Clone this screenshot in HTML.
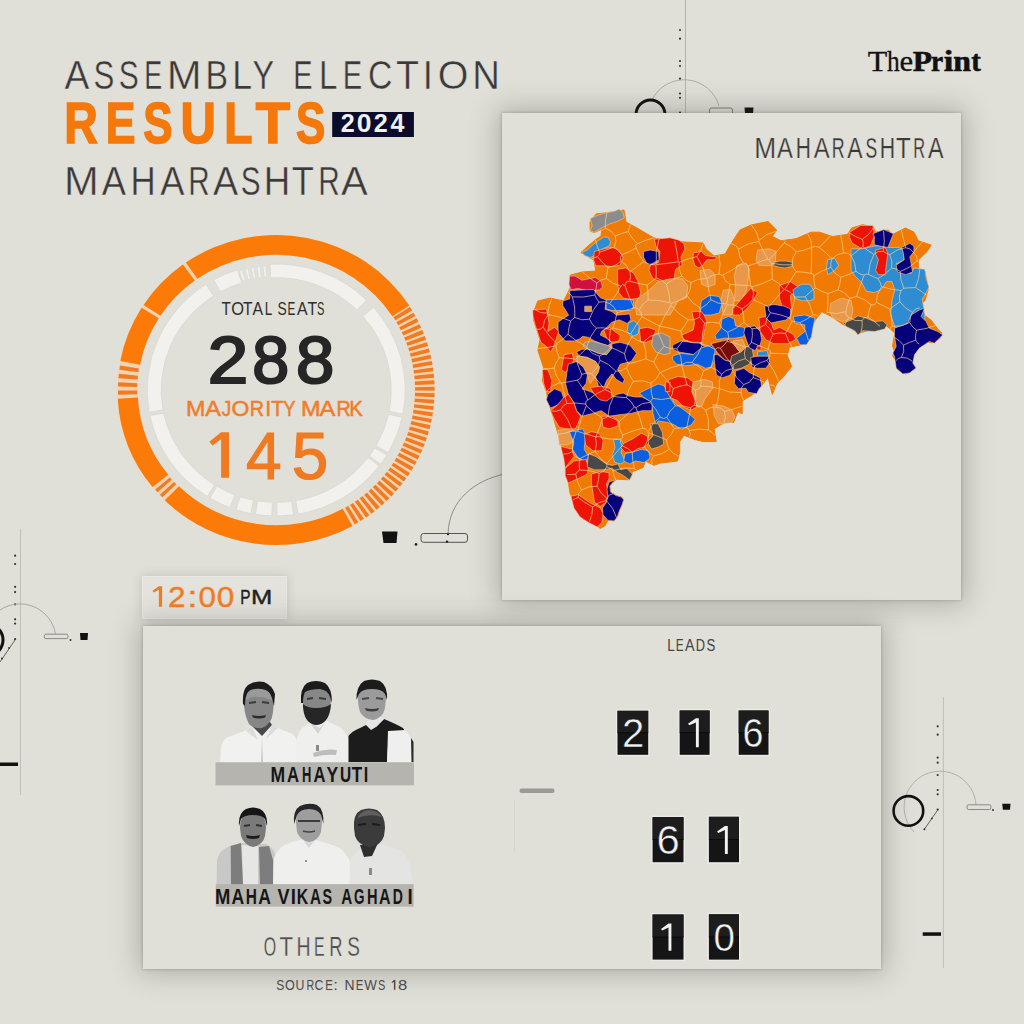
<!DOCTYPE html>
<html><head><meta charset="utf-8"><style>
html,body{margin:0;padding:0}
body{width:1024px;height:1024px;background:#e0dfd8;position:relative;overflow:hidden;font-family:"Liberation Sans", sans-serif}
.panel{position:absolute;background:#e0dfd8;box-shadow:0 0 3px 0 rgba(40,40,30,0.28), 0 0 26px 4px rgba(60,60,50,0.30)}
svg{position:absolute;left:0;top:0}
</style></head><body>
<svg width="1024" height="1024" viewBox="0 0 1024 1024"><line x1="685.5" y1="0" x2="685.5" y2="115" stroke="#a8a8a4" stroke-width="0.8"/><circle cx="680" cy="30" r="1.1" fill="#333"/><circle cx="680" cy="38.7" r="1.1" fill="#333"/><circle cx="680" cy="61" r="1.1" fill="#333"/><circle cx="680" cy="66" r="1.1" fill="#333"/><circle cx="680" cy="78.7" r="1.1" fill="#333"/><circle cx="680" cy="93.5" r="1.1" fill="#333"/><circle cx="680" cy="97.8" r="1.1" fill="#333"/><circle cx="680" cy="112.7" r="1.1" fill="#333"/><path d="M652,100 A36,36 0 0 1 719,106" fill="none" stroke="#a0a09c" stroke-width="0.8"/><circle cx="650.5" cy="114.5" r="14.5" fill="none" stroke="#111" stroke-width="3"/><rect x="709.5" y="108" width="23" height="6" rx="2" fill="none" stroke="#666" stroke-width="0.8"/><path d="M744.5,107.5 L753.5,107.5 L753,114 L745,114Z" fill="#111"/><path d="M382,531.5 L397.5,531.5 L396.5,543 L383.5,543Z" fill="#111"/><circle cx="416" cy="544.4" r="1.3" fill="#222"/><rect x="421" y="533.5" width="46.5" height="8.8" rx="2.5" fill="none" stroke="#444" stroke-width="0.9"/><circle cx="448" cy="534" r="1.2" fill="#222"/><circle cx="447" cy="541.6" r="1.2" fill="#222"/><path d="M448,534 C449,500 475,480 505,474" fill="none" stroke="#777" stroke-width="0.8"/><line x1="20.5" y1="529" x2="20.5" y2="795" stroke="#b8b8b4" stroke-width="0.8"/><circle cx="15.1" cy="555.7" r="1.1" fill="#333"/><circle cx="15.1" cy="564" r="1.1" fill="#333"/><circle cx="15.1" cy="586.8" r="1.1" fill="#333"/><circle cx="15.1" cy="592.1" r="1.1" fill="#333"/><circle cx="15.1" cy="604.3" r="1.1" fill="#333"/><circle cx="15.1" cy="619.3" r="1.1" fill="#333"/><circle cx="15.1" cy="623.6" r="1.1" fill="#333"/><circle cx="15.1" cy="639.2" r="1.1" fill="#333"/><path d="M0,610 A36,36 0 0 1 55.5,634" fill="none" stroke="#9a9a96" stroke-width="0.8"/><circle cx="-13" cy="640" r="16" fill="none" stroke="#111" stroke-width="3"/><line x1="15.5" y1="639.2" x2="0" y2="662" stroke="#555" stroke-width="0.9"/><circle cx="9" cy="648" r="0.9" fill="#333"/><circle cx="2" cy="658.6" r="1" fill="#333"/><rect x="44.4" y="634.2" width="23.5" height="4.4" rx="1.5" fill="none" stroke="#666" stroke-width="0.7"/><circle cx="70.5" cy="640" r="1" fill="#333"/><path d="M80,633 L88,633 L87.5,640 L80.5,640Z" fill="#111"/><rect x="0" y="762.5" width="18" height="3.5" fill="#111"/><line x1="943.4" y1="697" x2="943.4" y2="968" stroke="#b8b8b4" stroke-width="0.8"/><circle cx="937.7" cy="726.3" r="1.1" fill="#333"/><circle cx="937.7" cy="734.7" r="1.1" fill="#333"/><circle cx="937.7" cy="757.6" r="1.1" fill="#333"/><circle cx="937.7" cy="762.7" r="1.1" fill="#333"/><circle cx="937.7" cy="775" r="1.1" fill="#333"/><circle cx="937.7" cy="790" r="1.1" fill="#333"/><circle cx="937.7" cy="794.3" r="1.1" fill="#333"/><circle cx="937.7" cy="809.6" r="1.1" fill="#333"/><path d="M914,832 A36,36 0 1 1 976,804.8" fill="none" stroke="#a5a5a1" stroke-width="0.8"/><circle cx="908.4" cy="810.9" r="14.8" fill="none" stroke="#111" stroke-width="2.6"/><line x1="937.7" y1="810" x2="924.4" y2="829.2" stroke="#555" stroke-width="0.9"/><circle cx="931.8" cy="818.4" r="0.9" fill="#333"/><circle cx="924.4" cy="829.2" r="1" fill="#333"/><rect x="967.1" y="804.8" width="23.8" height="4.7" rx="1.5" fill="none" stroke="#666" stroke-width="0.7"/><circle cx="993" cy="810" r="1" fill="#333"/><path d="M1002.3,803.8 L1010.5,803.8 L1010,809.7 L1002.8,809.7Z" fill="#111"/><rect x="922.7" y="932.3" width="18.3" height="3.5" fill="#111"/></svg>
<div class="panel" style="left:502px;top:113px;width:459px;height:487px"></div>
<div class="panel" style="left:143px;top:577px;width:143px;height:41px;background:#e3e2dc;box-shadow:0 0 0 1px #e9e8e3, 0 0 10px 1px rgba(60,60,50,0.18)"></div>
<div class="panel" style="left:143px;top:626px;width:738px;height:343px"></div>
<svg width="1024" height="1024" viewBox="0 0 1024 1024">
<defs><filter id="soft" x="-5%" y="-5%" width="110%" height="110%"><feGaussianBlur stdDeviation="0.55"/></filter></defs>
<text transform="translate(64.43,88.8) scale(0.9313,1)" font-family="Liberation Sans" font-size="40" font-weight="normal" fill="#3a3a3a" stroke="#e0dfd8" stroke-width="0.45">A</text>
<text transform="translate(93.38,88.8) scale(0.7817,1)" font-family="Liberation Sans" font-size="40" font-weight="normal" fill="#3a3a3a" stroke="#e0dfd8" stroke-width="0.45">S</text>
<text transform="translate(118.84,88.8) scale(0.7513,1)" font-family="Liberation Sans" font-size="40" font-weight="normal" fill="#3a3a3a" stroke="#e0dfd8" stroke-width="0.45">S</text>
<text transform="translate(144.29,88.8) scale(0.6734,1)" font-family="Liberation Sans" font-size="40" font-weight="normal" fill="#3a3a3a" stroke="#e0dfd8" stroke-width="0.45">E</text>
<text transform="translate(166.67,88.8) scale(1.0464,1)" font-family="Liberation Sans" font-size="40" font-weight="normal" fill="#3a3a3a" stroke="#e0dfd8" stroke-width="0.45">M</text>
<text transform="translate(205.43,88.8) scale(0.8455,1)" font-family="Liberation Sans" font-size="40" font-weight="normal" fill="#3a3a3a" stroke="#e0dfd8" stroke-width="0.45">B</text>
<text transform="translate(232.28,88.8) scale(0.8902,1)" font-family="Liberation Sans" font-size="40" font-weight="normal" fill="#3a3a3a" stroke="#e0dfd8" stroke-width="0.45">L</text>
<text transform="translate(252.49,88.8) scale(0.8105,1)" font-family="Liberation Sans" font-size="40" font-weight="normal" fill="#3a3a3a" stroke="#e0dfd8" stroke-width="0.45">Y</text>
<text transform="translate(293.32,88.8) scale(0.7242,1)" font-family="Liberation Sans" font-size="40" font-weight="normal" fill="#3a3a3a" stroke="#e0dfd8" stroke-width="0.45">E</text>
<text transform="translate(318.88,88.8) scale(0.8278,1)" font-family="Liberation Sans" font-size="40" font-weight="normal" fill="#3a3a3a" stroke="#e0dfd8" stroke-width="0.45">L</text>
<text transform="translate(342.71,88.8) scale(0.7288,1)" font-family="Liberation Sans" font-size="40" font-weight="normal" fill="#3a3a3a" stroke="#e0dfd8" stroke-width="0.45">E</text>
<text transform="translate(368.08,88.8) scale(0.8448,1)" font-family="Liberation Sans" font-size="40" font-weight="normal" fill="#3a3a3a" stroke="#e0dfd8" stroke-width="0.45">C</text>
<text transform="translate(395.95,88.8) scale(0.9418,1)" font-family="Liberation Sans" font-size="40" font-weight="normal" fill="#3a3a3a" stroke="#e0dfd8" stroke-width="0.45">T</text>
<text transform="translate(422.64,88.8) scale(0.9114,1)" font-family="Liberation Sans" font-size="40" font-weight="normal" fill="#3a3a3a" stroke="#e0dfd8" stroke-width="0.45">I</text>
<text transform="translate(437.63,88.8) scale(0.9852,1)" font-family="Liberation Sans" font-size="40" font-weight="normal" fill="#3a3a3a" stroke="#e0dfd8" stroke-width="0.45">O</text>
<text transform="translate(472.26,88.8) scale(0.9578,1)" font-family="Liberation Sans" font-size="40" font-weight="normal" fill="#3a3a3a" stroke="#e0dfd8" stroke-width="0.45">N</text>
<text transform="translate(64.29,142.9) scale(0.8111,1)" font-family="Liberation Sans" font-size="57.3" font-weight="bold" fill="#f5780a" stroke="#f5780a" stroke-width="1.6">R</text>
<text transform="translate(105.82,142.9) scale(0.7777,1)" font-family="Liberation Sans" font-size="57.3" font-weight="bold" fill="#f5780a" stroke="#f5780a" stroke-width="1.6">E</text>
<text transform="translate(143.14,142.9) scale(0.7661,1)" font-family="Liberation Sans" font-size="57.3" font-weight="bold" fill="#f5780a" stroke="#f5780a" stroke-width="1.6">S</text>
<text transform="translate(180.45,142.9) scale(0.8565,1)" font-family="Liberation Sans" font-size="57.3" font-weight="bold" fill="#f5780a" stroke="#f5780a" stroke-width="1.6">U</text>
<text transform="translate(224.31,142.9) scale(0.8060,1)" font-family="Liberation Sans" font-size="57.3" font-weight="bold" fill="#f5780a" stroke="#f5780a" stroke-width="1.6">L</text>
<text transform="translate(255.77,142.9) scale(0.9780,1)" font-family="Liberation Sans" font-size="57.3" font-weight="bold" fill="#f5780a" stroke="#f5780a" stroke-width="1.6">T</text>
<text transform="translate(296.04,142.9) scale(0.7661,1)" font-family="Liberation Sans" font-size="57.3" font-weight="bold" fill="#f5780a" stroke="#f5780a" stroke-width="1.6">S</text>
<rect x="332.2" y="112" width="81.7" height="25" fill="#0b0b2b"/>
<text transform="translate(340.83,132.4) scale(0.9934,1)" font-family="Liberation Sans" font-size="25.3" font-weight="bold" fill="#f0f0f0" >2</text>
<text transform="translate(356.85,132.4) scale(1.0472,1)" font-family="Liberation Sans" font-size="25.3" font-weight="bold" fill="#f0f0f0" >0</text>
<text transform="translate(373.73,132.4) scale(0.9934,1)" font-family="Liberation Sans" font-size="25.3" font-weight="bold" fill="#f0f0f0" >2</text>
<text transform="translate(390.52,132.4) scale(0.9888,1)" font-family="Liberation Sans" font-size="25.3" font-weight="bold" fill="#f0f0f0" >4</text>
<text transform="translate(63.98,195.4) scale(1.0324,1)" font-family="Liberation Sans" font-size="40.4" font-weight="normal" fill="#3a3a3a" stroke="#e0dfd8" stroke-width="0.45">M</text>
<text transform="translate(101.73,195.4) scale(0.8996,1)" font-family="Liberation Sans" font-size="40.4" font-weight="normal" fill="#3a3a3a" stroke="#e0dfd8" stroke-width="0.45">A</text>
<text transform="translate(130.44,195.4) scale(0.8641,1)" font-family="Liberation Sans" font-size="40.4" font-weight="normal" fill="#3a3a3a" stroke="#e0dfd8" stroke-width="0.45">H</text>
<text transform="translate(160.13,195.4) scale(0.8996,1)" font-family="Liberation Sans" font-size="40.4" font-weight="normal" fill="#3a3a3a" stroke="#e0dfd8" stroke-width="0.45">A</text>
<text transform="translate(188.37,195.4) scale(0.7337,1)" font-family="Liberation Sans" font-size="40.4" font-weight="normal" fill="#3a3a3a" stroke="#e0dfd8" stroke-width="0.45">R</text>
<text transform="translate(213.03,195.4) scale(0.9332,1)" font-family="Liberation Sans" font-size="40.4" font-weight="normal" fill="#3a3a3a" stroke="#e0dfd8" stroke-width="0.45">A</text>
<text transform="translate(240.65,195.4) scale(0.7352,1)" font-family="Liberation Sans" font-size="40.4" font-weight="normal" fill="#3a3a3a" stroke="#e0dfd8" stroke-width="0.45">S</text>
<text transform="translate(263.69,195.4) scale(0.9084,1)" font-family="Liberation Sans" font-size="40.4" font-weight="normal" fill="#3a3a3a" stroke="#e0dfd8" stroke-width="0.45">H</text>
<text transform="translate(291.79,195.4) scale(0.8974,1)" font-family="Liberation Sans" font-size="40.4" font-weight="normal" fill="#3a3a3a" stroke="#e0dfd8" stroke-width="0.45">T</text>
<text transform="translate(318.25,195.4) scale(0.7379,1)" font-family="Liberation Sans" font-size="40.4" font-weight="normal" fill="#3a3a3a" stroke="#e0dfd8" stroke-width="0.45">R</text>
<text transform="translate(341.12,195.4) scale(0.9930,1)" font-family="Liberation Sans" font-size="40.4" font-weight="normal" fill="#3a3a3a" stroke="#e0dfd8" stroke-width="0.45">A</text>
<text transform="translate(867.72,71.1) scale(1.0645,1)" font-family="Liberation Serif" font-size="30" font-weight="normal" fill="#111" stroke="#111" stroke-width="0.3">T</text>
<text transform="translate(887.05,71.1) scale(0.8455,1)" font-family="Liberation Serif" font-size="30" font-weight="normal" fill="#111" stroke="#111" stroke-width="0.3">h</text>
<text transform="translate(899.40,71.1) scale(1.0267,1)" font-family="Liberation Serif" font-size="30" font-weight="normal" fill="#111" stroke="#111" stroke-width="0.3">e</text>
<text transform="translate(912.76,71.1) scale(1.0493,1)" font-family="Liberation Serif" font-size="30" font-weight="bold" fill="#111" stroke="#111" stroke-width="0.6">P</text>
<text transform="translate(930.97,71.1) scale(0.9102,1)" font-family="Liberation Serif" font-size="30" font-weight="bold" fill="#111" stroke="#111" stroke-width="0.6">r</text>
<text transform="translate(943.64,71.1) scale(1.1470,1)" font-family="Liberation Serif" font-size="30" font-weight="bold" fill="#111" stroke="#111" stroke-width="0.6">i</text>
<text transform="translate(953.14,71.1) scale(1.0632,1)" font-family="Liberation Serif" font-size="30" font-weight="bold" fill="#111" stroke="#111" stroke-width="0.6">n</text>
<text transform="translate(971.24,71.1) scale(0.9493,1)" font-family="Liberation Serif" font-size="30" font-weight="bold" fill="#111" stroke="#111" stroke-width="0.6">t</text>
<g transform="translate(276.2,390.0) scale(1.024,1)">
<path d="M155.00,0.00 A155.0,155.0 0 0 1 -155.00,0.03 L-135.30,0.02 A135.3,135.3 0 0 0 135.30,0.00Z M-155.00,0.00 A155.0,155.0 0 0 1 155.00,-0.03 L135.30,-0.02 A135.3,135.3 0 0 0 -135.30,0.00Z" fill="#f6d2b0"/>
<path d="M74.43,135.96 A155.0,155.0 0 0 1 -108.83,110.36 L-95.00,96.34 A135.3,135.3 0 0 0 64.97,118.68Z M-120.80,97.12 A155.0,155.0 0 0 1 -154.76,8.65 L-135.09,7.55 A135.3,135.3 0 0 0 -105.44,84.78Z M-152.25,-29.04 A155.0,155.0 0 0 1 -131.45,-82.14 L-114.74,-71.70 A135.3,135.3 0 0 0 -132.90,-25.35Z M-129.55,-85.10 A155.0,155.0 0 0 1 -91.11,-125.40 L-79.53,-109.46 A135.3,135.3 0 0 0 -113.08,-74.28Z M-88.24,-127.43 A155.0,155.0 0 0 1 129.99,-84.42 L113.47,-73.69 A135.3,135.3 0 0 0 -77.02,-111.24Z" fill="#fb7a08"/>
<path d="M130.62,-82.89 A154.7,154.7 0 0 1 132.67,-79.56 L116.29,-69.74 A135.60000000000002,135.60000000000002 0 0 0 114.49,-72.66Z M133.97,-77.35 A154.7,154.7 0 0 1 135.89,-73.94 L119.11,-64.81 A135.60000000000002,135.60000000000002 0 0 0 117.43,-67.80Z M137.10,-71.67 A154.7,154.7 0 0 1 138.87,-68.18 L121.72,-59.76 A135.60000000000002,135.60000000000002 0 0 0 120.17,-62.82Z M139.98,-65.87 A154.7,154.7 0 0 1 141.60,-62.30 L124.12,-54.61 A135.60000000000002,135.60000000000002 0 0 0 122.69,-57.74Z M142.61,-59.95 A154.7,154.7 0 0 1 144.08,-56.32 L126.29,-49.37 A135.60000000000002,135.60000000000002 0 0 0 125.00,-52.55Z M145.00,-53.92 A154.7,154.7 0 0 1 146.32,-50.24 L128.25,-44.04 A135.60000000000002,135.60000000000002 0 0 0 127.10,-47.27Z M147.13,-47.80 A154.7,154.7 0 0 1 148.29,-44.07 L129.98,-38.63 A135.60000000000002,135.60000000000002 0 0 0 128.96,-41.90Z M149.00,-41.60 A154.7,154.7 0 0 1 150.01,-37.82 L131.49,-33.15 A135.60000000000002,135.60000000000002 0 0 0 130.60,-36.47Z M150.61,-35.33 A154.7,154.7 0 0 1 151.46,-31.50 L132.76,-27.61 A135.60000000000002,135.60000000000002 0 0 0 132.02,-30.96Z M151.96,-28.99 A154.7,154.7 0 0 1 152.64,-25.13 L133.80,-22.03 A135.60000000000002,135.60000000000002 0 0 0 133.20,-25.41Z M153.04,-22.60 A154.7,154.7 0 0 1 153.56,-18.72 L134.60,-16.41 A135.60000000000002,135.60000000000002 0 0 0 134.15,-19.81Z M153.85,-16.17 A154.7,154.7 0 0 1 154.21,-12.27 L135.17,-10.76 A135.60000000000002,135.60000000000002 0 0 0 134.86,-14.17Z M154.39,-9.71 A154.7,154.7 0 0 1 154.59,-5.80 L135.50,-5.09 A135.60000000000002,135.60000000000002 0 0 0 135.33,-8.51Z M154.67,-3.24 A154.7,154.7 0 0 1 154.70,0.68 L135.60,0.59 A135.60000000000002,135.60000000000002 0 0 0 135.57,-2.84Z M154.67,3.24 A154.7,154.7 0 0 1 154.53,7.15 L135.45,6.27 A135.60000000000002,135.60000000000002 0 0 0 135.57,2.84Z M154.39,9.71 A154.7,154.7 0 0 1 154.10,13.62 L135.07,11.94 A135.60000000000002,135.60000000000002 0 0 0 135.33,8.51Z M153.85,16.17 A154.7,154.7 0 0 1 153.39,20.06 L134.46,17.58 A135.60000000000002,135.60000000000002 0 0 0 134.86,14.17Z M153.04,22.60 A154.7,154.7 0 0 1 152.42,26.46 L133.60,23.20 A135.60000000000002,135.60000000000002 0 0 0 134.15,19.81Z M151.96,28.99 A154.7,154.7 0 0 1 151.18,32.82 L132.51,28.77 A135.60000000000002,135.60000000000002 0 0 0 133.20,25.41Z M150.61,35.33 A154.7,154.7 0 0 1 149.67,39.13 L131.19,34.30 A135.60000000000002,135.60000000000002 0 0 0 132.02,30.96Z M149.00,41.60 A154.7,154.7 0 0 1 147.90,45.36 L129.64,39.76 A135.60000000000002,135.60000000000002 0 0 0 130.60,36.47Z M147.13,47.80 A154.7,154.7 0 0 1 145.87,51.51 L127.86,45.15 A135.60000000000002,135.60000000000002 0 0 0 128.96,41.90Z M145.00,53.92 A154.7,154.7 0 0 1 143.59,57.58 L125.86,50.47 A135.60000000000002,135.60000000000002 0 0 0 127.10,47.27Z M142.61,59.95 A154.7,154.7 0 0 1 141.05,63.54 L123.63,55.69 A135.60000000000002,135.60000000000002 0 0 0 125.00,52.55Z M139.98,65.87 A154.7,154.7 0 0 1 138.27,69.39 L121.19,60.82 A135.60000000000002,135.60000000000002 0 0 0 122.69,57.74Z M137.10,71.67 A154.7,154.7 0 0 1 135.24,75.12 L118.54,65.84 A135.60000000000002,135.60000000000002 0 0 0 120.17,62.82Z M133.97,77.35 A154.7,154.7 0 0 1 131.97,80.72 L115.68,70.75 A135.60000000000002,135.60000000000002 0 0 0 117.43,67.80Z M130.62,82.89 A154.7,154.7 0 0 1 128.48,86.17 L112.62,75.53 A135.60000000000002,135.60000000000002 0 0 0 114.49,72.66Z M127.03,88.29 A154.7,154.7 0 0 1 124.76,91.48 L109.35,80.18 A135.60000000000002,135.60000000000002 0 0 0 111.35,77.39Z M123.22,93.53 A154.7,154.7 0 0 1 120.82,96.62 L105.90,84.69 A135.60000000000002,135.60000000000002 0 0 0 108.01,81.98Z M119.20,98.61 A154.7,154.7 0 0 1 116.66,101.59 L102.26,89.05 A135.60000000000002,135.60000000000002 0 0 0 104.48,86.43Z M114.96,103.51 A154.7,154.7 0 0 1 112.31,106.39 L98.44,93.26 A135.60000000000002,135.60000000000002 0 0 0 100.77,90.73Z M110.53,108.24 A154.7,154.7 0 0 1 107.75,111.00 L94.45,97.30 A135.60000000000002,135.60000000000002 0 0 0 96.88,94.87Z M105.90,112.77 A154.7,154.7 0 0 1 103.01,115.42 L90.29,101.17 A135.60000000000002,135.60000000000002 0 0 0 92.82,98.85Z M101.08,117.11 A154.7,154.7 0 0 1 98.09,119.63 L85.98,104.86 A135.60000000000002,135.60000000000002 0 0 0 88.60,102.65Z M96.09,121.24 A154.7,154.7 0 0 1 92.99,123.63 L81.51,108.37 A135.60000000000002,135.60000000000002 0 0 0 84.23,106.27Z M90.93,125.15 A154.7,154.7 0 0 1 87.73,127.42 L76.90,111.68 A135.60000000000002,135.60000000000002 0 0 0 79.70,109.70Z M85.61,128.85 A154.7,154.7 0 0 1 82.32,130.98 L72.16,114.81 A135.60000000000002,135.60000000000002 0 0 0 75.04,112.94Z M80.14,132.32 A154.7,154.7 0 0 1 76.76,134.31 L67.29,117.73 A135.60000000000002,135.60000000000002 0 0 0 70.24,115.99Z M-111.14,107.32 A154.5,154.5 0 0 1 -113.54,104.78 L-99.80,92.09 A135.8,135.8 0 0 0 -97.69,94.33Z M-115.89,102.17 A154.5,154.5 0 0 1 -118.18,99.52 L-103.88,87.47 A135.8,135.8 0 0 0 -101.87,89.81Z M-154.42,4.85 A154.5,154.5 0 0 1 -154.50,0.54 L-135.80,0.47 A135.8,135.8 0 0 0 -135.73,4.27Z M-154.46,-3.51 A154.5,154.5 0 0 1 -154.30,-7.82 L-135.63,-6.87 A135.8,135.8 0 0 0 -135.77,-3.08Z M-154.04,-11.85 A154.5,154.5 0 0 1 -153.65,-16.15 L-135.06,-14.19 A135.8,135.8 0 0 0 -135.40,-10.42Z M-153.18,-20.17 A154.5,154.5 0 0 1 -152.56,-24.44 L-134.09,-21.48 A135.8,135.8 0 0 0 -134.64,-17.73Z" fill="#ef7c22"/>
<path d="M-124.01,22.31 A126.0,126.0 0 0 1 -68.62,-105.67 L-61.16,-94.18 A112.3,112.3 0 0 0 -110.53,19.89Z M-61.09,-110.20 A126.0,126.0 0 0 1 -37.89,-120.17 L-33.77,-107.10 A112.3,112.3 0 0 0 -54.44,-98.22Z M-6.16,-125.85 A126.0,126.0 0 0 1 88.31,-89.87 L78.71,-80.10 A112.3,112.3 0 0 0 -5.49,-112.17Z M95.09,-82.66 A126.0,126.0 0 0 1 123.69,24.04 L110.24,21.43 A112.3,112.3 0 0 0 84.75,-73.68Z M123.01,27.27 A126.0,126.0 0 0 1 109.34,62.62 L97.45,55.81 A112.3,112.3 0 0 0 109.64,24.31Z M108.00,64.89 A126.0,126.0 0 0 1 101.94,74.06 L90.85,66.01 A112.3,112.3 0 0 0 96.26,57.84Z M100.63,75.83 A126.0,126.0 0 0 1 21.45,124.16 L19.11,110.66 A112.3,112.3 0 0 0 89.69,67.58Z M16.88,124.86 A126.0,126.0 0 0 1 0.66,126.00 L0.59,112.30 A112.3,112.3 0 0 0 15.05,111.29Z M-4.18,125.93 A126.0,126.0 0 0 1 -20.36,124.34 L-18.15,110.82 A112.3,112.3 0 0 0 -3.72,112.24Z M-24.90,123.51 A126.0,126.0 0 0 1 -39.35,119.70 L-35.08,106.68 A112.3,112.3 0 0 0 -22.20,110.08Z M-45.15,117.63 A126.0,126.0 0 0 1 -64.89,108.00 L-57.84,96.26 A112.3,112.3 0 0 0 -40.24,104.84Z M-67.33,106.50 A126.0,126.0 0 0 1 -123.34,25.77 L-109.93,22.96 A112.3,112.3 0 0 0 -60.01,94.92Z" fill="#f3f1ed" stroke="#d9d7d1" stroke-width="0.8"/>
<path d="M-35.78,-119.25 A124.5,124.5 0 0 1 -33.27,-119.97 L-30.41,-109.66 A113.8,113.8 0 0 0 -32.70,-109.00Z M-30.12,-120.80 A124.5,124.5 0 0 1 -27.58,-121.41 L-25.21,-110.97 A113.8,113.8 0 0 0 -27.53,-110.42Z M-24.40,-122.09 A124.5,124.5 0 0 1 -21.83,-122.57 L-19.96,-112.04 A113.8,113.8 0 0 0 -22.30,-111.59Z M-18.62,-123.10 A124.5,124.5 0 0 1 -16.04,-123.46 L-14.66,-112.85 A113.8,113.8 0 0 0 -17.02,-112.52Z M-12.80,-123.84 A124.5,124.5 0 0 1 -10.20,-124.08 L-9.32,-113.42 A113.8,113.8 0 0 0 -11.70,-113.20Z" fill="#f3f1ed" stroke="#d9d7d1" stroke-width="0.5"/>
</g>
<text transform="translate(221.46,314.7) scale(0.8450,1)" font-family="Liberation Sans" font-size="18" font-weight="normal" fill="#2e2e2e" >T</text>
<text transform="translate(231.22,314.7) scale(0.9115,1)" font-family="Liberation Sans" font-size="18" font-weight="normal" fill="#2e2e2e" >O</text>
<text transform="translate(243.05,314.7) scale(0.8646,1)" font-family="Liberation Sans" font-size="18" font-weight="normal" fill="#2e2e2e" >T</text>
<text transform="translate(252.57,314.7) scale(0.8797,1)" font-family="Liberation Sans" font-size="18" font-weight="normal" fill="#2e2e2e" >A</text>
<text transform="translate(264.70,314.7) scale(0.7434,1)" font-family="Liberation Sans" font-size="18" font-weight="normal" fill="#2e2e2e" >L</text>
<text transform="translate(277.57,314.7) scale(0.7720,1)" font-family="Liberation Sans" font-size="18" font-weight="normal" fill="#2e2e2e" >S</text>
<text transform="translate(287.43,314.7) scale(0.6560,1)" font-family="Liberation Sans" font-size="18" font-weight="normal" fill="#2e2e2e" >E</text>
<text transform="translate(296.97,314.7) scale(0.8797,1)" font-family="Liberation Sans" font-size="18" font-weight="normal" fill="#2e2e2e" >A</text>
<text transform="translate(307.55,314.7) scale(0.8745,1)" font-family="Liberation Sans" font-size="18" font-weight="normal" fill="#2e2e2e" >T</text>
<text transform="translate(316.90,314.7) scale(0.6176,1)" font-family="Liberation Sans" font-size="18" font-weight="normal" fill="#2e2e2e" >S</text>
<text transform="translate(207.63,383.4) scale(1.0877,1)" font-family="Liberation Sans" font-size="67" font-weight="normal" fill="#262626" stroke="#262626" stroke-width="2.2">2</text>
<text transform="translate(252.31,383.4) scale(0.9924,1)" font-family="Liberation Sans" font-size="67" font-weight="normal" fill="#262626" stroke="#262626" stroke-width="2.2">8</text>
<text transform="translate(296.11,383.4) scale(1.0274,1)" font-family="Liberation Sans" font-size="67" font-weight="normal" fill="#262626" stroke="#262626" stroke-width="2.2">8</text>
<text transform="translate(185.89,416.1) scale(1.0847,1)" font-family="Liberation Sans" font-size="21.5" font-weight="normal" fill="#ef7d2a" stroke="#ef7d2a" stroke-width="0.5">M</text>
<text transform="translate(205.35,416.1) scale(1.0942,1)" font-family="Liberation Sans" font-size="21.5" font-weight="normal" fill="#ef7d2a" stroke="#ef7d2a" stroke-width="0.5">A</text>
<text transform="translate(221.70,416.1) scale(0.8845,1)" font-family="Liberation Sans" font-size="21.5" font-weight="normal" fill="#ef7d2a" stroke="#ef7d2a" stroke-width="0.5">J</text>
<text transform="translate(231.61,416.1) scale(1.0698,1)" font-family="Liberation Sans" font-size="21.5" font-weight="normal" fill="#ef7d2a" stroke="#ef7d2a" stroke-width="0.5">O</text>
<text transform="translate(249.68,416.1) scale(0.9165,1)" font-family="Liberation Sans" font-size="21.5" font-weight="normal" fill="#ef7d2a" stroke="#ef7d2a" stroke-width="0.5">R</text>
<text x="265.22" y="416.1" font-family="Liberation Sans" font-size="21.5" font-weight="normal" fill="#ef7d2a" stroke="#ef7d2a" stroke-width="0.5">I</text>
<text transform="translate(271.34,416.1) scale(0.9460,1)" font-family="Liberation Sans" font-size="21.5" font-weight="normal" fill="#ef7d2a" stroke="#ef7d2a" stroke-width="0.5">T</text>
<text transform="translate(283.29,416.1) scale(0.8585,1)" font-family="Liberation Sans" font-size="21.5" font-weight="normal" fill="#ef7d2a" stroke="#ef7d2a" stroke-width="0.5">Y</text>
<text transform="translate(301.07,416.1) scale(1.0916,1)" font-family="Liberation Sans" font-size="21.5" font-weight="normal" fill="#ef7d2a" stroke="#ef7d2a" stroke-width="0.5">M</text>
<text transform="translate(319.55,416.1) scale(1.1013,1)" font-family="Liberation Sans" font-size="21.5" font-weight="normal" fill="#ef7d2a" stroke="#ef7d2a" stroke-width="0.5">A</text>
<text transform="translate(336.58,416.1) scale(0.9165,1)" font-family="Liberation Sans" font-size="21.5" font-weight="normal" fill="#ef7d2a" stroke="#ef7d2a" stroke-width="0.5">R</text>
<text transform="translate(349.23,416.1) scale(0.9485,1)" font-family="Liberation Sans" font-size="21.5" font-weight="normal" fill="#ef7d2a" stroke="#ef7d2a" stroke-width="0.5">K</text>
<path d="M221.10,432.20 L229.00,432.20 L229.00,477.80 L221.10,477.80 L221.10,439.32 L212.55,445.60 L209.30,441.70 Z" fill="#f07a22"/>
<text transform="translate(245.93,478.5) scale(0.9682,1)" font-family="Liberation Sans" font-size="66" font-weight="normal" fill="#f07a22" stroke="#f07a22" stroke-width="1.2">4</text>
<text transform="translate(291.67,478.5) scale(0.9971,1)" font-family="Liberation Sans" font-size="66" font-weight="normal" fill="#f07a22" stroke="#f07a22" stroke-width="1.2">5</text>
<text transform="translate(754.24,157.7) scale(0.9135,1)" font-family="Liberation Sans" font-size="28.8" font-weight="normal" fill="#3a3a3a" stroke="#e0dfd8" stroke-width="0.25">M</text>
<text transform="translate(776.95,157.7) scale(0.8274,1)" font-family="Liberation Sans" font-size="28.8" font-weight="normal" fill="#3a3a3a" stroke="#e0dfd8" stroke-width="0.25">A</text>
<text transform="translate(795.78,157.7) scale(0.7273,1)" font-family="Liberation Sans" font-size="28.8" font-weight="normal" fill="#3a3a3a" stroke="#e0dfd8" stroke-width="0.25">H</text>
<text transform="translate(813.85,157.7) scale(0.8274,1)" font-family="Liberation Sans" font-size="28.8" font-weight="normal" fill="#3a3a3a" stroke="#e0dfd8" stroke-width="0.25">A</text>
<text transform="translate(831.74,157.7) scale(0.6199,1)" font-family="Liberation Sans" font-size="28.8" font-weight="normal" fill="#3a3a3a" stroke="#e0dfd8" stroke-width="0.25">R</text>
<text transform="translate(847.26,157.7) scale(0.7959,1)" font-family="Liberation Sans" font-size="28.8" font-weight="normal" fill="#3a3a3a" stroke="#e0dfd8" stroke-width="0.25">A</text>
<text transform="translate(865.40,157.7) scale(0.6092,1)" font-family="Liberation Sans" font-size="28.8" font-weight="normal" fill="#3a3a3a" stroke="#e0dfd8" stroke-width="0.25">S</text>
<text transform="translate(879.75,157.7) scale(0.7397,1)" font-family="Liberation Sans" font-size="28.8" font-weight="normal" fill="#3a3a3a" stroke="#e0dfd8" stroke-width="0.25">H</text>
<text transform="translate(895.96,157.7) scale(0.8352,1)" font-family="Liberation Sans" font-size="28.8" font-weight="normal" fill="#3a3a3a" stroke="#e0dfd8" stroke-width="0.25">T</text>
<text transform="translate(913.16,157.7) scale(0.5673,1)" font-family="Liberation Sans" font-size="28.8" font-weight="normal" fill="#3a3a3a" stroke="#e0dfd8" stroke-width="0.25">R</text>
<text transform="translate(928.05,157.7) scale(0.8064,1)" font-family="Liberation Sans" font-size="28.8" font-weight="normal" fill="#3a3a3a" stroke="#e0dfd8" stroke-width="0.25">A</text>
<polygon points="590.0,222.0 596.0,214.0 612.0,212.0 624.0,210.0 626.0,222.0 637.0,228.0 654.0,238.0 665.0,240.0 684.0,242.0 703.0,243.0 706.0,249.0 714.0,256.0 725.0,254.0 734.0,239.0 740.0,230.0 751.0,225.0 768.0,221.5 776.6,230.0 772.3,236.5 781.0,240.8 796.0,238.7 811.0,232.2 819.5,232.2 832.4,236.5 847.4,234.4 851.7,228.0 862.5,224.7 873.2,226.9 875.4,232.2 888.3,230.0 892.6,234.4 905.5,228.0 914.0,232.2 918.3,240.8 931.2,245.1 927.0,251.6 918.3,260.0 918.3,268.7 924.8,270.9 927.0,281.6 928.0,290.2 924.8,301.0 918.3,305.3 922.6,313.9 931.2,320.3 937.7,328.9 942.0,333.2 939.8,338.6 931.2,342.9 924.8,340.7 914.0,347.2 911.9,360.0 914.0,368.7 905.5,374.0 896.9,368.7 896.9,362.2 892.6,355.8 894.7,351.5 892.6,346.0 894.7,333.2 890.4,328.9 884.0,324.0 875.4,328.9 858.2,333.2 851.7,328.9 843.2,324.6 830.3,316.0 821.7,311.7 815.2,320.3 810.9,328.9 810.9,338.6 800.2,345.0 789.4,347.2 787.3,355.8 791.6,366.5 783.0,377.3 776.6,383.7 772.3,394.4 768.0,377.3 761.5,385.9 752.9,394.4 742.2,400.9 742.2,413.8 737.9,411.6 733.6,422.4 725.0,422.4 714.0,428.7 716.2,441.6 703.3,441.6 694.7,439.5 684.0,435.2 679.7,441.6 679.7,452.4 677.5,461.0 660.3,463.1 653.9,465.3 645.3,461.0 643.2,467.4 632.4,471.7 630.3,478.0 628.3,479.8 617.4,479.2 616.0,479.8 612.6,482.6 609.8,486.0 610.5,492.1 616.0,495.6 621.5,497.0 623.5,499.7 622.1,504.5 619.4,510.6 617.4,516.8 614.0,520.9 607.8,520.2 605.0,525.7 600.3,528.4 593.7,523.3 583.0,519.0 576.6,508.2 570.1,493.2 568.0,480.3 565.8,463.1 561.5,446.0 557.2,430.9 552.9,415.9 548.6,403.0 546.5,392.2 542.2,380.0 544.3,369.7 537.9,350.4 540.0,339.6 533.6,320.3 533.6,311.7 537.9,301.0 550.0,298.0 563.7,301.0 568.0,292.4 570.1,288.0 570.1,275.2 582.0,272.0 595.9,271.0 593.7,260.0 580.9,252.6 588.0,246.0 595.9,239.5 601.0,236.0 602.0,229.0 594.3,232.6 590.2,231.2" fill="#f17b02" stroke="#f17b02" stroke-width="1" stroke-linejoin="round"/>
<polygon points="590.2,218.7 594.3,216.6 603.8,213.2 614.8,211.2 618.9,209.1 623.0,212.5 624.3,218.0 617.5,221.4 609.3,224.1 601.1,228.2 594.3,232.3 590.2,231.0 592.2,225.5" fill="#8c8c8c" stroke="#f5c99a" stroke-width="0.6" stroke-linejoin="round"/>
<polygon points="582.0,252.2 587.4,250.1 592.9,244.7 598.4,240.5 603.8,237.1 607.9,237.1 610.7,241.9 609.3,246.0 602.5,248.8 597.0,251.5 594.3,255.6 590.2,257.6 584.7,255.6" fill="#2d8cd2" stroke="#f5c99a" stroke-width="0.6" stroke-linejoin="round"/>
<polygon points="594.3,251.5 603.8,248.8 612.0,247.4 618.9,250.1 623.0,257.0 620.2,265.2 612.0,266.5 603.8,265.8 595.6,265.8 593.6,259.7" fill="#ee1405" stroke="#f5c99a" stroke-width="0.6" stroke-linejoin="round"/>
<polygon points="654.4,239.2 670.0,237.8 678.2,239.9 683.7,243.3 685.0,248.8 680.9,257.0 682.3,265.2 675.5,269.3 674.1,278.8 670.0,281.6 661.3,281.6 653.0,278.8 649.0,270.6 650.3,265.2 658.5,262.4 659.9,251.5 655.8,246.0" fill="#ee1405" stroke="#f5c99a" stroke-width="0.6" stroke-linejoin="round"/>
<polygon points="643.5,251.5 650.3,250.1 658.5,251.5 659.2,259.7 654.4,262.4 649.0,265.2 646.2,262.4 643.5,257.0" fill="#06007a" stroke="#f5c99a" stroke-width="0.6" stroke-linejoin="round"/>
<polygon points="617.5,269.3 625.7,267.9 633.9,273.4 638.0,281.6 640.7,292.5 639.4,298.0 631.2,299.3 623.0,298.0 618.9,292.5 617.5,281.6" fill="#ee1405" stroke="#f5c99a" stroke-width="0.6" stroke-linejoin="round"/>
<polygon points="569.7,276.1 575.1,276.1 582.0,280.2 588.8,278.8 595.6,277.5 601.1,281.6 602.5,287.0 599.7,289.8 588.8,291.1 577.9,288.4 571.0,289.8 569.0,284.3" fill="#cf1040" stroke="#f5c99a" stroke-width="0.6" stroke-linejoin="round"/>
<polygon points="569.8,290.5 593.3,289.4 600.3,297.6 606.2,299.9 605.0,309.3 612.0,311.6 616.7,315.2 629.6,314.0 630.8,319.8 627.3,323.4 619.1,319.8 612.0,322.2 607.3,326.9 601.5,331.6 600.3,335.1 607.3,338.6 612.0,343.3 607.3,345.6 600.3,343.3 594.5,340.9 588.6,337.4 582.7,336.3 580.4,338.6 574.5,340.9 565.2,340.9 558.1,332.7 558.1,322.2 562.8,318.7 568.7,315.2 562.8,305.8 562.8,301.1 569.8,298.8" fill="#06007a" stroke="#f5c99a" stroke-width="0.6" stroke-linejoin="round"/>
<polygon points="606.2,299.9 618.9,299.3 633.1,299.9 633.9,306.0 631.2,310.5 612.0,310.5 606.2,309.0" fill="#0a5fe1" stroke="#f5c99a" stroke-width="0.6" stroke-linejoin="round"/>
<polygon points="638.0,298.0 646.2,292.5 658.5,281.6 670.0,278.8 682.3,278.8 687.8,285.7 686.4,298.0 678.2,300.7 670.0,315.0 636.6,315.0 635.3,303.4" fill="#e89848" stroke="#f5c99a" stroke-width="0.6" stroke-linejoin="round"/>
<polygon points="584.7,306.2 591.5,306.2 591.5,311.6 584.7,311.6" fill="#e89848" stroke="#f5c99a" stroke-width="0.6" stroke-linejoin="round"/>
<polygon points="532.7,310.0 546.4,309.0 547.8,315.0 549.1,323.2 547.8,331.4 554.6,327.3 558.7,331.4 556.0,339.6 553.2,347.8 550.5,351.9 546.4,346.4 540.9,342.3 538.2,334.1 535.5,325.9 533.0,316.0" fill="#ee1405" stroke="#f5c99a" stroke-width="0.6" stroke-linejoin="round"/>
<polygon points="693.2,252.9 701.4,251.5 705.5,255.6 716.5,257.0 715.1,259.7 706.9,259.7 702.8,265.2 698.7,267.9 694.6,265.2 693.2,259.7" fill="#ee1405" stroke="#f5c99a" stroke-width="0.6" stroke-linejoin="round"/>
<polygon points="700.0,270.6 709.6,269.3 715.1,274.7 715.1,284.3 708.3,287.0 701.4,284.3" fill="#e89848" stroke="#f5c99a" stroke-width="0.6" stroke-linejoin="round"/>
<polygon points="757.5,250.1 769.8,248.8 776.0,251.5 775.3,262.4 771.2,265.8 758.9,265.2 756.1,259.7" fill="#e89848" stroke="#f5c99a" stroke-width="0.6" stroke-linejoin="round"/>
<polygon points="737.0,265.2 746.6,263.8 749.3,269.3 747.9,281.6 746.6,289.8 741.1,300.7 734.3,300.7 735.6,287.0 734.3,276.1" fill="#e89848" stroke="#f5c99a" stroke-width="0.6" stroke-linejoin="round"/>
<polygon points="723.3,290.0 731.0,289.8 734.3,300.0 732.0,315.0 723.3,315.0 721.0,300.0" fill="#e89848" stroke="#f5c99a" stroke-width="0.6" stroke-linejoin="round"/>
<polygon points="773.9,262.4 779.4,261.1 786.2,261.1 793.0,262.4 791.7,266.5 784.8,267.9 779.4,267.2 773.9,265.8" fill="#484848" stroke="#f5c99a" stroke-width="0.6" stroke-linejoin="round"/>
<polygon points="701.4,300.7 709.6,295.2 719.2,296.6 722.0,303.4 719.2,313.0 711.0,315.0 701.4,315.0 700.0,308.9" fill="#0a5fe1" stroke="#f5c99a" stroke-width="0.6" stroke-linejoin="round"/>
<polygon points="732.9,308.9 741.1,299.3 750.7,288.4 757.5,292.5 753.4,300.7 746.6,308.9 739.7,315.0 732.9,315.0" fill="#ee1405" stroke="#f5c99a" stroke-width="0.6" stroke-linejoin="round"/>
<polygon points="779.4,285.7 790.3,281.6 798.5,287.0 795.8,292.5 790.3,295.2 791.7,308.9 786.2,311.6 782.1,306.2 779.4,298.0" fill="#ee1405" stroke="#f5c99a" stroke-width="0.6" stroke-linejoin="round"/>
<polygon points="793.0,289.8 801.3,284.3 810.0,284.3 814.0,291.0 814.0,299.0 810.0,300.7 801.3,300.7 794.4,298.0" fill="#2d8cd2" stroke="#f5c99a" stroke-width="0.6" stroke-linejoin="round"/>
<polygon points="851.0,248.8 862.0,248.8 874.3,246.0 881.1,246.0 887.9,247.4 898.9,247.4 903.0,250.1 904.3,259.7 896.1,263.8 897.5,270.6 911.2,273.4 913.9,267.9 924.8,269.3 926.2,278.8 929.0,287.0 926.2,292.5 922.1,299.3 923.5,306.2 924.8,315.0 925.0,330.0 912.0,335.0 896.0,330.0 890.7,315.0 892.0,300.7 894.8,289.8 892.0,281.6 886.6,281.6 881.1,289.8 874.3,292.5 866.1,291.1 862.0,282.9 855.1,276.1 851.0,270.6 851.0,259.7" fill="#2d8cd2" stroke="#f5c99a" stroke-width="0.6" stroke-linejoin="round"/>
<polygon points="849.6,232.3 860.6,225.5 872.9,225.5 874.3,236.4 870.2,246.0 862.0,248.8 852.4,243.3 849.6,237.8" fill="#ee1405" stroke="#f5c99a" stroke-width="0.6" stroke-linejoin="round"/>
<polygon points="872.9,233.7 883.8,229.6 893.4,233.7 890.7,240.5 887.9,247.4 879.7,246.0 874.3,244.7 874.3,236.4" fill="#06007a" stroke="#f5c99a" stroke-width="0.6" stroke-linejoin="round"/>
<polygon points="875.6,250.1 885.2,247.4 887.9,252.9 886.6,262.4 885.2,274.7 878.4,274.7 875.6,270.6 878.4,259.7 875.6,254.2" fill="#ee1405" stroke="#f5c99a" stroke-width="0.6" stroke-linejoin="round"/>
<polygon points="901.6,247.4 909.8,243.3 913.9,246.0 913.9,251.5 909.8,257.0 911.2,263.8 912.5,272.0 905.7,274.7 897.5,272.0 896.1,265.2 904.3,259.7 903.0,251.5" fill="#06007a" stroke="#f5c99a" stroke-width="0.6" stroke-linejoin="round"/>
<polygon points="827.8,259.7 834.6,258.3 838.7,265.2 834.6,270.6 827.8,274.7 826.4,267.9" fill="#2d8cd2" stroke="#f5c99a" stroke-width="0.6" stroke-linejoin="round"/>
<polygon points="830.5,303.4 841.4,298.0 851.0,300.7 853.0,310.0 851.4,318.3 843.1,321.6 833.1,318.3 829.8,311.6" fill="#e89848" stroke="#f5c99a" stroke-width="0.6" stroke-linejoin="round"/>
<polygon points="843.1,323.2 851.4,319.9 858.0,315.8 866.3,318.3 874.6,321.6 882.9,320.8 887.1,324.9 884.6,329.1 874.6,331.5 863.0,330.7 858.0,334.9 854.7,330.7 846.4,326.6" fill="#484848" stroke="#f5c99a" stroke-width="0.6" stroke-linejoin="round"/>
<polygon points="894.5,328.2 907.8,323.2 911.1,314.9 919.4,310.0 924.4,308.3 921.1,316.6 926.1,321.6 929.4,328.2 937.7,331.5 942.7,334.9 937.7,339.8 934.4,343.2 929.4,341.5 924.4,344.8 919.4,348.1 914.5,354.8 912.8,363.1 916.1,368.1 909.5,373.0 902.8,373.9 896.2,368.1 894.5,356.4 892.9,353.1 896.2,346.5 894.5,336.5" fill="#06007a" stroke="#f5c99a" stroke-width="0.6" stroke-linejoin="round"/>
<polygon points="793.3,316.6 804.9,314.9 814.9,318.3 813.2,326.6 811.5,336.5 806.6,344.8 799.9,344.8 796.6,338.2 804.9,331.5 804.9,324.9 794.9,323.2" fill="#0a5fe1" stroke="#f5c99a" stroke-width="0.6" stroke-linejoin="round"/>
<polygon points="628.4,323.2 633.9,320.5 639.4,325.9 638.0,334.1 631.2,336.9 627.1,331.4" fill="#2d8cd2" stroke="#f5c99a" stroke-width="0.6" stroke-linejoin="round"/>
<polygon points="603.8,330.0 609.3,327.3 614.8,331.4 620.2,335.5 618.9,341.0 612.0,342.3 606.6,338.2" fill="#ee1405" stroke="#f5c99a" stroke-width="0.6" stroke-linejoin="round"/>
<polygon points="639.4,328.7 647.6,327.3 655.8,330.0 653.0,339.6 646.2,342.3 640.7,342.3" fill="#ee1405" stroke="#f5c99a" stroke-width="0.6" stroke-linejoin="round"/>
<polygon points="653.0,335.5 661.3,332.8 670.0,336.9 670.0,353.3 664.0,354.7 655.8,351.9 651.7,345.1" fill="#8c8c8c" stroke="#f5c99a" stroke-width="0.6" stroke-linejoin="round"/>
<polygon points="576.5,351.9 582.0,349.2 588.8,349.2 598.4,353.3 606.6,354.7 612.0,347.8 612.0,343.7 620.2,342.3 629.8,345.1 636.6,353.3 631.2,361.5 620.2,364.2 617.5,369.7 624.3,379.3 623.0,383.4 616.1,379.3 612.0,373.8 606.6,380.6 603.8,387.5 598.4,386.1 595.6,376.5 598.4,369.7 595.6,361.5 587.4,357.4 579.2,356.0" fill="#06007a" stroke="#f5c99a" stroke-width="0.6" stroke-linejoin="round"/>
<polygon points="584.7,342.3 591.5,341.0 606.6,345.1 612.0,347.8 606.6,354.7 598.4,353.3 588.8,349.2 583.3,346.4" fill="#8c8c8c" stroke="#f5c99a" stroke-width="0.6" stroke-linejoin="round"/>
<polygon points="576.5,356.0 587.4,357.4 595.6,361.5 599.7,367.0 598.4,372.4 594.3,377.9 590.2,383.4 587.4,375.2 582.0,369.7 577.9,362.9" fill="#e89848" stroke="#f5c99a" stroke-width="0.6" stroke-linejoin="round"/>
<polygon points="564.2,354.7 572.4,353.3 573.8,360.1 569.7,367.0 565.5,372.4 561.4,369.7 562.8,361.5" fill="#ee1405" stroke="#f5c99a" stroke-width="0.6" stroke-linejoin="round"/>
<polygon points="568.3,364.2 576.5,361.5 583.3,367.0 587.4,375.2 586.1,383.4 582.0,388.8 590.2,391.6 595.6,394.3 601.1,399.8 612.0,397.0 617.5,394.3 623.0,392.9 628.4,395.7 635.3,397.0 642.1,397.0 653.0,402.5 651.7,410.7 642.1,410.7 631.2,413.4 618.9,414.8 609.3,416.2 601.1,410.7 592.9,413.4 582.0,416.2 576.5,410.7 573.8,402.5 568.3,394.3 565.5,383.4 566.9,372.4" fill="#06007a" stroke="#f5c99a" stroke-width="0.6" stroke-linejoin="round"/>
<polygon points="590.2,387.5 601.1,386.1 610.7,388.8 612.0,397.0 606.6,401.1 599.7,399.8 594.3,394.3" fill="#ee1405" stroke="#f5c99a" stroke-width="0.6" stroke-linejoin="round"/>
<polygon points="542.3,369.7 547.8,369.7 551.9,380.6 550.5,391.6 546.4,391.6 543.7,383.4" fill="#ee1405" stroke="#f5c99a" stroke-width="0.6" stroke-linejoin="round"/>
<polygon points="547.8,394.3 554.6,388.8 561.4,391.6 564.2,399.8 557.3,405.2 550.5,408.0 546.4,399.8" fill="#06007a" stroke="#f5c99a" stroke-width="0.6" stroke-linejoin="round"/>
<polygon points="550.5,410.7 557.3,405.2 564.2,397.0 568.3,394.3 573.8,402.5 576.5,410.7 580.6,416.2 578.3,422.9 575.4,428.8 566.6,428.8 559.3,427.3 554.9,420.0" fill="#ee1405" stroke="#f5c99a" stroke-width="0.6" stroke-linejoin="round"/>
<polygon points="639.4,393.0 650.3,387.5 658.2,384.1 663.7,385.5 670.5,396.4 674.6,403.2 684.2,410.1 691.0,415.5 695.1,419.6 691.0,425.1 681.4,429.2 674.6,425.1 667.8,422.4 658.2,421.0 655.8,425.0 653.0,413.4 651.7,402.5 643.5,397.0" fill="#0a5fe1" stroke="#f5c99a" stroke-width="0.6" stroke-linejoin="round"/>
<polygon points="601.1,416.2 612.0,416.2 617.9,420.0 617.9,425.9 609.1,428.8 603.2,427.3" fill="#ee1405" stroke="#f5c99a" stroke-width="0.6" stroke-linejoin="round"/>
<polygon points="691.9,311.6 701.4,311.6 704.2,315.0 706.9,321.8 704.2,331.4 702.8,342.3 694.6,343.7 683.7,339.6 680.9,335.5 693.2,330.0 694.6,323.2" fill="#ee1405" stroke="#f5c99a" stroke-width="0.6" stroke-linejoin="round"/>
<polygon points="722.0,319.1 728.8,316.4 734.3,319.1 735.6,325.9 743.8,327.3 746.6,332.8 742.5,336.9 734.3,338.2 724.7,338.2 716.5,339.6 715.1,335.5 720.6,328.7" fill="#0a5fe1" stroke="#f5c99a" stroke-width="0.6" stroke-linejoin="round"/>
<polygon points="672.7,345.1 680.9,341.0 690.5,342.3 698.7,342.3 704.2,346.4 702.8,351.9 694.6,354.7 686.4,353.3 678.2,351.9 672.7,349.2" fill="#06007a" stroke="#f5c99a" stroke-width="0.6" stroke-linejoin="round"/>
<polygon points="672.7,356.0 680.9,353.3 693.2,354.7 701.4,347.8 711.0,345.1 716.5,349.2 715.1,360.1 711.0,367.0 705.5,368.3 697.3,364.2 686.4,365.6 676.8,364.2 672.7,360.1" fill="#0a5fe1" stroke="#f5c99a" stroke-width="0.6" stroke-linejoin="round"/>
<polygon points="711.0,343.7 722.0,341.0 728.8,339.6 735.6,346.4 739.7,351.9 732.9,356.0 730.2,361.5 724.7,360.1 717.9,353.3" fill="#760c0c" stroke="#f5c99a" stroke-width="0.6" stroke-linejoin="round"/>
<polygon points="732.9,341.0 742.5,339.6 745.2,346.4 739.7,351.9 735.6,346.4" fill="#e89848" stroke="#f5c99a" stroke-width="0.6" stroke-linejoin="round"/>
<polygon points="713.8,354.7 717.9,354.7 724.7,360.1 730.2,361.5 732.9,369.7 730.2,375.2 722.0,377.9 716.5,375.2 715.1,367.0" fill="#06007a" stroke="#f5c99a" stroke-width="0.6" stroke-linejoin="round"/>
<polygon points="731.5,356.0 741.1,351.9 746.6,346.4 752.0,347.8 753.4,356.0 749.3,364.2 741.1,368.3 734.3,369.7 730.2,364.2" fill="#484848" stroke="#f5c99a" stroke-width="0.6" stroke-linejoin="round"/>
<polygon points="745.2,327.3 754.8,325.9 760.2,331.4 761.6,339.6 760.2,345.1 754.8,350.5 749.3,347.8 746.6,341.0 743.8,332.8" fill="#06007a" stroke="#f5c99a" stroke-width="0.6" stroke-linejoin="round"/>
<polygon points="750.7,357.4 758.9,356.0 768.4,356.0 769.8,362.9 765.7,368.3 757.5,368.3 752.0,367.0" fill="#06007a" stroke="#f5c99a" stroke-width="0.6" stroke-linejoin="round"/>
<polygon points="735.6,371.1 743.8,368.3 749.3,372.4 754.8,375.2 760.2,377.9 761.6,386.1 759.4,388.2 756.6,393.7 748.4,392.3 745.7,388.2 738.4,388.8 734.3,383.4" fill="#06007a" stroke="#f5c99a" stroke-width="0.6" stroke-linejoin="round"/>
<polygon points="758.9,317.7 765.7,316.4 771.2,323.2 773.9,330.0 779.4,327.3 793.0,334.1 795.8,339.6 787.6,343.7 773.9,343.7 765.7,339.6 760.2,331.4" fill="#ee1405" stroke="#f5c99a" stroke-width="0.6" stroke-linejoin="round"/>
<polygon points="764.6,306.0 774.0,304.5 784.0,306.0 790.4,309.0 790.4,316.0 786.0,320.0 778.0,321.5 771.0,323.0 766.0,318.0" fill="#06007a" stroke="#f5c99a" stroke-width="0.6" stroke-linejoin="round"/>
<polygon points="757.0,346.0 761.0,346.0 761.0,350.0 757.0,350.0" fill="#ee1405" stroke="#f5c99a" stroke-width="0.6" stroke-linejoin="round"/>
<polygon points="757.5,351.9 767.1,350.5 768.4,356.0 757.5,356.0" fill="#2d8cd2" stroke="#f5c99a" stroke-width="0.6" stroke-linejoin="round"/>
<polygon points="670.0,379.3 678.2,376.5 687.8,377.9 693.2,382.0 691.9,391.6 696.0,399.8 696.5,407.3 691.0,410.1 684.2,407.3 677.3,400.5 670.5,397.8 666.4,390.9 665.0,384.1" fill="#ee1405" stroke="#f5c99a" stroke-width="0.6" stroke-linejoin="round"/>
<polygon points="693.2,382.0 704.2,379.3 712.4,382.0 712.9,388.2 708.8,393.7 704.7,399.1 702.0,406.0 697.9,407.3 695.1,400.5 691.9,391.6" fill="#e89848" stroke="#f5c99a" stroke-width="0.6" stroke-linejoin="round"/>
<polygon points="712.9,404.6 723.8,406.0 732.0,410.1 734.8,416.9 732.0,422.4 723.8,423.8 718.4,423.8 714.3,415.5" fill="#e89848" stroke="#f5c99a" stroke-width="0.6" stroke-linejoin="round"/>
<polygon points="665.4,382.0 670.0,382.0 670.0,391.6 665.4,391.6" fill="#ee1405" stroke="#f5c99a" stroke-width="0.6" stroke-linejoin="round"/>
<polygon points="650.0,423.8 658.2,423.8 662.3,432.0 663.7,444.3 658.2,447.0 651.6,449.0 647.2,442.0 653.0,436.1 651.6,428.8" fill="#484848" stroke="#f5c99a" stroke-width="0.6" stroke-linejoin="round"/>
<polygon points="557.8,430.3 568.1,428.8 573.9,434.6 572.5,442.0 568.1,444.9 559.3,444.9" fill="#e89848" stroke="#f5c99a" stroke-width="0.6" stroke-linejoin="round"/>
<polygon points="569.5,431.7 582.7,428.8 585.7,434.6 584.2,449.3 588.6,456.6 585.7,461.0 578.3,458.1 572.5,449.3 573.9,442.0 571.0,436.1" fill="#0a5fe1" stroke="#f5c99a" stroke-width="0.6" stroke-linejoin="round"/>
<polygon points="584.2,434.6 591.5,431.7 598.8,433.2 603.2,440.5 601.8,450.8 593.0,450.8 585.7,444.9" fill="#ee1405" stroke="#f5c99a" stroke-width="0.6" stroke-linejoin="round"/>
<polygon points="560.8,446.4 572.5,449.3 573.9,456.6 568.1,463.9 565.2,468.3 563.7,458.1" fill="#ee1405" stroke="#f5c99a" stroke-width="0.6" stroke-linejoin="round"/>
<polygon points="565.2,468.3 573.9,461.0 585.7,459.5 588.6,466.9 587.1,474.2 578.3,478.6 568.1,483.0 565.2,475.7" fill="#ee1405" stroke="#f5c99a" stroke-width="0.6" stroke-linejoin="round"/>
<polygon points="588.6,453.7 595.9,456.6 606.2,463.9 612.0,465.4 617.9,463.9 620.8,469.8 626.7,468.3 632.5,474.2 629.6,480.1 623.7,475.7 617.9,472.7 612.0,468.3 603.2,469.8 594.4,469.8 587.1,466.9" fill="#484848" stroke="#f5c99a" stroke-width="0.6" stroke-linejoin="round"/>
<polygon points="613.5,439.0 620.8,439.0 623.7,444.9 620.8,452.2 625.2,461.0 620.8,463.9 615.0,462.5 612.0,455.2 615.0,447.8" fill="#2d8cd2" stroke="#f5c99a" stroke-width="0.6" stroke-linejoin="round"/>
<polygon points="623.7,443.4 632.5,439.0 641.3,433.2 647.2,436.1 648.6,443.4 641.3,449.3 632.5,452.2 625.2,452.2 620.8,447.8" fill="#ee1405" stroke="#f5c99a" stroke-width="0.6" stroke-linejoin="round"/>
<polygon points="625.2,453.7 632.5,452.2 641.3,449.3 648.6,450.8 650.1,458.1 644.3,462.5 635.5,461.0 629.6,463.9 623.7,461.0" fill="#0a5fe1" stroke="#f5c99a" stroke-width="0.6" stroke-linejoin="round"/>
<polygon points="591.5,474.2 600.3,471.3 609.1,472.7 609.1,478.6 606.2,484.5 609.1,493.2 606.2,502.0 600.3,506.4 594.4,502.0 593.0,493.2 591.5,483.0" fill="#ee1405" stroke="#f5c99a" stroke-width="0.6" stroke-linejoin="round"/>
<polygon points="571.0,496.2 578.3,494.7 588.6,502.0 594.4,505.0 600.3,507.9 603.2,513.7 601.8,522.5 597.4,526.9 588.6,522.5 579.8,516.7 573.9,507.9" fill="#ee1405" stroke="#f5c99a" stroke-width="0.6" stroke-linejoin="round"/>
<polygon points="616.0,479.8 612.6,482.6 609.8,486.0 610.5,492.1 616.0,495.6 621.5,497.0 623.5,499.7 622.1,504.5 619.4,510.6 617.4,516.8 614.0,520.9 607.8,520.2 603.0,515.0 602.5,508.0 606.0,503.0 608.0,497.0 607.0,489.0 609.0,482.0" fill="#06007a" stroke="#f5c99a" stroke-width="0.6" stroke-linejoin="round"/>
<path d="M912.2,361.2L907.2,358.1L901.4,357.5M919.3,344.0L917.0,342.5L915.7,340.1M901.4,357.5L903.7,351.5L903.5,345.2M915.7,340.1L909.5,342.4L903.5,345.2M606.9,212.6L605.5,220.3L605.3,228.1M605.3,228.1L603.9,229.7L601.8,230.2M589.5,521.6L591.9,514.5L592.6,507.0M573.0,500.0L575.5,498.5L578.1,497.5M592.6,507.0L585.1,502.6L578.1,497.5M766.9,360.4L760.5,362.7L754.6,365.9M754.6,365.9L753.6,371.7L753.2,377.6M766.9,360.4L773.7,370.4L778.8,381.5M753.2,377.6L758.9,379.6L764.1,382.4M769.9,384.9L773.0,385.1L775.2,387.2M922.3,242.1L917.7,247.1L913.5,252.5M913.5,252.5L910.3,249.1L905.7,247.7M901.5,230.0L903.4,238.9L905.7,247.7M900.2,271.5L909.4,267.2L917.2,260.6M900.2,271.5L901.0,280.1L903.9,288.2M903.9,288.2L909.7,287.8L915.5,287.6M915.5,287.6L918.5,278.6L919.8,269.2M917.2,260.6L917.2,261.7L918.3,261.3M913.5,252.5L916.7,255.9L917.2,260.6M630.4,224.4L629.4,228.0L628.3,231.6M605.3,228.1L611.1,231.2L615.3,236.1M628.3,231.6L621.7,233.4L615.3,236.1M536.6,329.3L540.2,329.2L543.1,327.2M538.3,348.4L547.2,347.5L556.0,345.8M543.1,327.2L549.3,335.8L556.6,343.6M556.0,345.8L556.9,344.9L556.6,343.6M570.6,320.9L559.7,317.1L548.4,314.6M570.6,320.9L572.7,319.2L574.8,317.5M574.8,317.5L574.7,307.0L572.3,296.9M547.9,313.2L547.3,314.3L548.4,314.6M547.9,313.2L549.1,305.6L551.9,298.4M568.1,292.2L570.5,294.3L572.3,296.9M568.0,334.4L562.7,339.5L556.6,343.6M543.1,327.2L544.5,320.4L548.4,314.6M568.0,334.4L569.0,327.6L570.6,320.9M534.6,309.3L540.8,312.6L547.9,313.2M660.3,417.2L655.8,409.4L650.1,402.4M660.3,417.2L653.2,423.4L648.3,431.4M650.1,402.4L642.5,403.6L635.9,407.7M648.3,431.4L645.8,429.3L642.8,428.1M635.9,407.7L639.8,417.8L642.8,428.1M572.4,430.8L567.7,419.6L560.8,409.7M572.4,430.8L565.4,433.1L558.2,434.3M560.8,409.7L556.2,411.3L551.3,411.0M578.1,497.5L578.8,493.4L581.4,490.2M581.4,490.2L577.8,482.5L575.7,474.1M567.3,474.5L571.5,474.5L575.7,474.1M770.1,353.2L779.0,353.5L787.8,353.8M766.9,360.4L769.3,357.2L770.1,353.2M808.3,340.1L805.4,330.7L799.8,322.6M791.8,346.7L788.3,340.2L785.5,333.4M799.8,322.6L795.9,321.9L792.0,321.1M785.5,333.4L789.0,327.4L792.0,321.1M813.0,314.8L806.7,319.2L799.8,322.6M813.0,314.8L810.0,305.3L805.2,296.7M805.2,296.7L800.2,297.0L795.1,297.0M795.1,297.0L792.5,307.5L790.2,318.2M790.2,318.2L790.9,319.8L792.0,321.1M768.2,349.3L769.8,341.4L773.1,334.1M768.2,349.3L759.7,346.0L751.4,342.3M752.1,328.8L752.4,335.6L751.4,342.3M752.1,328.8L759.2,327.9L765.5,324.5M765.5,324.5L769.9,328.9L773.1,334.1M785.5,333.4L779.3,333.0L773.1,334.1M770.1,353.2L770.3,350.7L768.2,349.3M770.5,312.7L780.5,314.9L790.2,318.2M770.5,312.7L767.2,318.2L765.5,324.5M660.3,417.2L663.5,418.5L666.8,417.4M666.8,417.4L670.2,411.0L675.4,405.8M650.1,402.4L651.3,400.4L652.7,398.4M652.7,398.4L661.5,399.5L670.3,398.2M675.4,405.8L672.9,402.0L670.3,398.2M666.8,417.4L670.6,422.9L674.2,428.5M674.2,428.5L680.4,427.8L686.7,427.7M675.4,405.8L683.2,406.0L690.7,407.9M690.7,407.9L688.8,417.8L686.7,427.7M592.6,507.0L598.9,502.6L606.3,500.5M616.6,517.7L612.6,508.4L606.3,500.5M581.4,490.2L588.9,486.9L597.0,486.2M597.0,486.2L601.1,492.9L606.7,498.3M606.3,500.5L605.8,499.2L606.7,498.3M901.4,357.5L898.3,358.5L895.9,360.7M903.5,345.2L899.2,340.6L894.1,337.1M881.5,286.5L877.7,294.1L876.3,302.4M901.2,290.5L891.2,289.2L881.5,286.5M901.2,290.5L899.4,296.0L899.9,301.8M876.3,302.4L883.1,305.6L889.8,309.0M899.9,301.8L894.8,305.4L889.8,309.0M935.2,325.5L926.1,328.5L916.6,330.1M919.6,307.9L915.4,309.0L912.5,312.3M912.5,312.3L910.4,317.3L909.8,322.6M916.6,330.1L912.6,326.9L909.8,322.6M915.5,287.6L921.2,291.2L926.5,295.4M915.7,340.1L915.6,335.1L916.6,330.1M901.2,290.5L902.5,289.2L903.9,288.2M899.9,301.8L905.5,307.9L912.5,312.3M892.1,326.3L891.6,317.6L889.8,309.0M892.1,326.3L901.2,325.9L909.8,322.6M890.2,328.7L890.7,327.2L892.1,326.3M807.6,233.7L810.9,240.1L811.8,247.2M830.5,235.9L824.9,241.6L819.2,247.3M819.2,247.3L815.5,246.5L811.8,247.2M796.2,271.7L790.5,280.6L784.7,289.5M796.2,271.7L803.6,272.2L811.1,273.4M815.3,287.8L814.0,281.9L813.8,275.8M815.3,287.8L810.2,292.1L805.2,296.7M784.7,289.5L790.6,292.3L795.1,297.0M811.1,273.4L812.9,274.1L813.8,275.8M792.1,264.8L793.8,268.4L796.2,271.7M792.1,264.8L792.9,257.9L796.3,251.9M796.3,251.9L804.1,250.2L811.6,247.4M811.1,273.4L811.6,260.4L811.6,247.4M813.0,314.8L815.8,314.9L818.3,316.2M827.7,293.4L827.9,302.9L827.2,312.4M827.7,293.4L821.3,291.1L815.3,287.8M826.0,313.8L826.6,313.2L827.2,312.4M832.0,258.8L830.8,263.0L830.9,267.4M832.0,258.8L837.2,254.8L843.4,252.9M830.9,267.4L835.0,273.1L840.8,277.2M843.4,252.9L847.7,253.3L851.2,255.8M851.2,255.8L854.7,263.1L855.9,271.2M840.8,277.2L848.5,274.6L855.9,271.2M819.2,247.3L825.8,252.9L832.0,258.8M813.8,275.8L822.0,270.9L830.9,267.4M840.8,235.3L842.4,244.1L843.4,252.9M827.7,293.4L833.0,291.9L838.1,289.8M838.1,289.8L839.9,283.6L840.8,277.2M848.7,232.4L855.3,236.4L862.4,239.4M873.6,227.8L868.7,234.3L862.4,239.4M851.2,255.8L857.0,251.2L862.9,246.5M862.4,239.4L863.4,243.0L862.9,246.5M849.7,298.3L847.5,305.0L845.8,311.8M849.7,298.3L853.2,297.4L856.6,296.5M856.6,296.5L864.5,299.7L871.1,304.9M848.7,317.2L846.0,315.2L845.8,311.8M848.7,317.2L855.0,320.4L862.1,320.6M871.1,304.9L869.1,310.8L868.0,317.0M862.1,320.6L864.3,317.7L868.0,317.0M838.1,289.8L844.7,293.0L849.7,298.3M827.2,312.4L836.6,313.5L845.8,311.8M864.2,275.1L860.1,285.7L856.6,296.5M864.2,275.1L859.7,273.9L855.9,271.2M844.7,325.3L846.6,321.2L848.7,317.2M861.0,332.5L862.1,326.6L862.1,320.6M880.0,326.3L874.2,321.4L868.0,317.0M876.3,302.4L874.3,304.9L871.1,304.9M770.5,312.7L768.7,310.0L768.6,306.9M768.6,306.9L776.2,298.1L784.0,289.5M771.8,263.2L772.0,271.2L772.2,279.2M792.1,264.8L781.9,264.8L771.8,263.2M784.0,289.5L778.8,283.5L772.2,279.2M722.8,275.2L733.1,269.3L743.1,262.7M718.9,274.0L720.8,274.8L722.8,275.2M719.0,255.1L720.1,264.6L718.9,274.0M731.2,243.7L735.6,245.3L738.5,249.1M738.5,249.1L739.7,256.3L743.1,262.7M678.3,261.8L667.3,263.3L656.3,264.6M678.3,261.8L676.8,251.4L674.7,241.0M656.3,264.6L656.3,251.6L659.0,238.9M637.6,243.7L632.2,238.2L628.3,231.6M637.6,243.7L645.5,240.4L653.6,237.8M703.1,243.2L700.8,250.3L696.8,256.6M718.9,274.0L712.6,275.3L707.0,278.5M706.4,278.3L702.6,267.0L696.8,256.6M679.0,262.3L687.8,259.0L696.8,256.6M582.5,272.0L589.4,277.8L596.9,283.0M572.3,296.9L583.6,297.0L594.8,295.0M594.8,295.0L596.0,289.0L596.9,283.0M637.6,243.7L635.6,245.4L636.2,247.9M636.2,247.9L639.4,255.1L643.6,261.8M655.8,265.1L649.5,264.1L643.6,261.8M615.3,236.1L615.9,241.6L614.3,247.0M636.2,247.9L629.2,251.7L621.7,254.7M621.7,254.7L618.1,250.7L614.3,247.0M595.4,239.9L597.2,246.1L599.6,252.1M614.3,247.0L607.0,249.6L599.6,252.1M591.5,258.7L594.5,257.8L597.4,256.5M597.4,256.5L599.3,254.7L599.6,252.1M546.3,391.5L552.6,385.9L560.3,382.4M543.9,368.5L549.0,368.8L554.1,368.0M560.3,382.4L556.4,375.6L554.1,368.0M556.0,345.8L557.0,352.0L559.4,357.8M554.1,368.0L556.1,362.6L559.4,357.8M589.4,319.2L593.3,310.1L599.0,302.1M589.4,319.2L592.3,324.2L596.5,328.0M596.5,328.0L603.6,327.8L610.4,329.6M617.0,312.6L615.3,320.4L613.1,328.0M617.0,312.6L614.1,307.4L609.6,303.6M610.4,329.6L611.7,328.6L613.1,328.0M609.6,303.6L604.4,301.7L599.0,302.1M594.8,295.0L596.6,298.7L599.0,302.1M574.8,317.5L581.9,319.8L589.4,319.2M568.0,334.4L577.0,341.2L586.8,346.6M586.8,346.6L590.7,336.8L596.5,328.0M634.0,307.9L637.0,308.1L639.3,309.9M639.3,309.9L641.1,313.1L641.9,316.7M634.0,307.9L625.6,310.5L617.0,312.6M613.1,328.0L622.1,330.4L630.7,333.8M641.9,316.7L636.2,325.2L630.7,333.8M572.4,430.8L574.2,431.2L576.0,431.9M563.5,454.1L568.2,453.6L572.4,451.6M572.4,451.6L572.8,441.5L576.0,431.9M599.1,473.3L603.9,471.1L606.8,466.7M599.1,473.3L589.5,470.6L579.6,470.0M595.1,451.3L587.4,454.8L579.9,458.6M595.1,451.3L600.2,458.1L606.6,463.8M606.6,463.8L607.0,465.2L606.8,466.7M579.6,470.0L579.2,464.3L579.9,458.6M597.0,486.2L598.5,479.8L599.1,473.3M613.1,493.7L609.2,495.1L606.7,498.3M613.0,470.7L613.9,475.5L615.8,480.0M613.0,470.7L610.1,468.4L606.8,466.7M575.7,474.1L577.3,471.7L579.6,470.0M576.0,431.9L576.7,431.0L577.7,431.4M595.3,436.7L586.5,434.1L577.7,431.4M572.4,451.6L575.1,456.2L579.9,458.6M595.3,436.7L596.4,444.0L595.1,451.3M596.2,436.1L596.3,437.3L595.3,436.7M622.1,445.7L614.4,454.8L606.6,463.8M620.4,439.7L620.6,442.9L622.1,445.7M620.4,439.7L608.1,438.9L596.2,436.1M635.9,407.7L635.2,407.1L634.2,407.1M642.8,428.1L632.6,431.1L622.6,434.9M622.6,434.9L619.5,428.7L619.2,421.7M619.2,421.7L626.9,414.6L634.2,407.1M652.7,398.4L651.1,390.8L651.1,383.1M651.1,383.1L642.4,380.8L633.5,381.3M633.5,381.3L629.0,389.1L626.4,397.7M634.2,407.1L631.2,401.7L626.4,397.7M673.2,388.6L680.0,386.2L687.1,384.8M673.2,388.6L667.0,380.4L660.4,372.5M687.1,384.8L684.1,374.8L681.6,364.7M660.4,372.5L670.7,367.8L681.6,364.7M670.3,398.2L672.4,393.6L673.2,388.6M660.0,372.4L656.5,378.5L651.1,383.1M726.9,341.4L736.5,343.7L745.6,347.3M726.9,341.4L724.0,345.1L720.4,348.3M720.4,348.3L726.0,357.2L732.8,365.3M732.8,365.3L738.5,360.9L745.3,358.7M745.3,358.7L744.4,353.0L745.6,347.3M727.6,332.2L736.2,328.1L744.0,322.5M727.6,332.2L728.7,336.9L726.9,341.4M751.4,342.3L749.1,345.5L745.6,347.3M744.0,322.5L748.1,325.7L752.1,328.8M731.7,368.9L733.6,367.5L732.8,365.3M743.7,384.5L736.7,377.5L731.7,368.9M753.2,377.6L749.3,382.3L743.7,384.5M754.6,365.9L749.9,362.4L745.3,358.7M692.0,362.5L698.3,353.9L702.5,344.1M692.0,362.5L698.1,366.1L703.7,370.5M703.7,370.5L707.5,369.4L711.0,367.3M711.0,367.3L713.6,358.5L715.3,349.4M715.3,349.4L709.1,346.3L702.5,344.1M720.4,348.3L717.6,347.6L715.3,349.4M731.7,368.9L726.1,370.5L721.7,374.2M721.7,374.2L716.8,370.1L711.0,367.3M719.2,323.2L711.9,322.2L704.6,323.2M704.6,323.2L702.6,333.1L701.9,343.2M727.6,332.2L722.4,328.6L719.2,323.2M701.9,343.2L701.1,344.3L702.5,344.1M648.3,431.4L647.3,432.7L649.0,432.9M674.2,428.5L671.1,434.7L666.5,439.8M649.0,432.9L657.7,436.3L666.5,439.8M666.5,439.8L667.4,444.7L669.3,449.2M686.7,427.7L688.5,428.6L689.1,430.5M689.1,430.5L690.5,433.9L689.2,437.3M678.7,456.3L673.5,453.4L669.3,449.2M689.1,430.5L698.7,429.2L708.4,429.9M715.2,435.8L712.1,432.6L708.4,429.9M873.9,254.3L878.2,251.6L883.3,251.4M873.9,254.3L870.0,264.0L868.5,274.3M891.6,268.0L891.8,261.3L889.8,254.8M891.6,268.0L885.2,273.9L877.9,278.7M889.8,254.8L886.4,253.3L883.3,251.4M877.9,278.7L873.2,276.6L868.5,274.3M883.6,230.8L884.3,241.1L883.3,251.4M862.9,246.5L868.1,250.8L873.9,254.3M864.2,275.1L866.2,274.1L868.5,274.3M905.7,247.7L897.2,250.0L889.8,254.8M900.2,271.5L896.2,269.0L891.6,268.0M881.5,286.5L880.1,282.4L877.9,278.7M730.1,284.4L740.4,285.1L750.8,285.7M730.1,284.4L728.3,294.1L726.6,303.9M742.1,308.7L735.0,305.3L727.1,304.6M742.1,308.7L748.0,304.7L752.8,299.5M752.8,299.5L753.6,293.1L751.9,286.9M751.9,286.9L750.8,286.8L750.8,285.7M722.8,275.2L725.3,280.7L730.1,284.4M743.1,262.7L746.0,263.7L748.2,265.9M748.2,265.9L749.1,275.8L750.8,285.7M710.9,299.8L718.4,303.2L726.6,303.9M707.0,278.5L708.6,289.2L710.9,299.8M719.2,323.2L723.0,313.8L727.1,304.6M744.0,322.5L743.6,315.5L742.1,308.7M768.6,306.9L760.7,303.1L752.8,299.5M772.2,279.2L762.3,283.6L751.9,286.9M710.9,299.8L706.4,304.7L700.9,308.3M699.5,317.2L702.1,320.1L704.6,323.2M700.9,308.3L699.8,312.7L699.5,317.2M769.3,259.5L768.4,259.8L767.8,258.9M769.3,259.5L776.9,251.3L784.3,243.0M767.8,258.9L762.9,250.4L758.8,241.4M784.3,243.0L785.1,241.6L783.9,240.4M775.7,231.4L766.7,234.7L759.0,240.5M771.8,263.2L769.9,261.8L769.3,259.5M748.2,265.9L758.1,262.5L767.8,258.9M796.3,251.9L791.0,246.5L784.3,243.0M738.5,249.1L748.1,243.9L758.8,241.4M751.3,224.9L756.4,232.1L759.0,240.5M690.9,282.6L685.9,280.1L681.9,276.2M690.9,282.6L690.2,289.5L687.1,295.7M681.9,276.2L673.6,279.1L666.4,284.2M687.1,295.7L679.4,300.5L670.8,303.5M666.4,284.2L668.9,293.4L670.2,302.9M706.4,278.3L698.4,279.4L690.9,282.6M679.0,262.3L679.2,269.5L681.9,276.2M700.9,308.3L693.0,303.1L687.1,295.7M655.8,265.1L656.3,271.5L656.0,277.9M656.0,277.9L661.7,280.3L666.4,284.2M688.1,319.8L678.9,313.5L671.0,305.5M671.0,305.5L670.8,304.5L670.8,303.5M699.5,317.2L694.1,319.7L688.1,319.8M648.2,300.1L647.9,292.6L647.1,285.1M648.2,300.1L659.3,300.5L670.2,302.9M656.0,277.9L651.7,281.7L647.1,285.1M629.5,281.1L630.6,276.6L629.9,271.9M629.5,281.1L626.2,282.2L624.9,285.5M620.9,286.1L613.1,283.4L606.4,278.6M620.9,286.1L622.7,284.5L624.9,285.5M629.9,271.9L626.5,265.7L621.0,261.3M621.0,261.3L615.0,265.5L608.0,267.5M606.4,278.6L607.0,273.0L608.0,267.5M643.6,261.8L636.7,266.8L629.9,271.9M647.1,285.1L638.2,283.4L629.5,281.1M648.2,300.1L642.8,304.2L639.3,309.9M634.0,307.9L629.2,296.8L624.9,285.5M596.9,283.0L601.2,279.9L606.4,278.6M609.6,303.6L615.8,295.2L620.9,286.1M621.7,254.7L620.3,257.9L621.0,261.3M597.4,256.5L602.3,262.4L608.0,267.5M560.8,409.7L563.2,405.9L566.9,403.5M560.3,382.4L560.6,383.3L561.6,383.0M566.9,403.5L564.0,393.4L561.6,383.0M681.7,364.6L686.6,362.4L692.0,362.5M681.7,364.6L680.7,356.3L676.9,348.8M701.9,343.2L692.6,342.7L683.8,339.7M676.9,348.8L680.3,344.2L683.8,339.7M671.0,305.5L664.9,315.5L660.1,326.1M688.1,319.8L684.8,325.6L680.9,331.1M660.1,326.1L670.6,328.4L680.9,331.1M641.9,316.7L650.8,321.6L659.9,326.2M680.9,331.1L682.1,335.5L683.8,339.7M610.6,347.4L609.4,338.5L610.4,329.6M610.6,347.4L617.7,350.3L624.5,353.7M630.7,333.8L632.1,334.9L632.0,336.8M632.0,336.8L627.5,344.9L624.5,353.7M708.4,429.9L708.4,419.8L705.8,410.1M690.7,407.9L692.3,406.1L694.6,405.3M694.6,405.3L700.8,406.3L705.8,410.1M687.1,384.8L691.4,387.2L695.6,389.9M694.6,405.3L695.7,397.6L695.6,389.9M703.7,370.5L700.9,378.1L700.8,386.2M695.6,389.9L698.8,389.0L700.8,386.2M721.7,374.2L719.3,381.1L719.5,388.5M700.8,386.2L710.2,386.8L719.5,388.5M653.6,456.0L651.7,460.0L652.1,464.4M653.6,456.0L648.4,452.0L644.3,447.0M632.2,452.2L632.8,460.4L634.2,468.4M632.2,452.2L637.8,448.7L644.3,447.0M634.2,468.4L635.3,469.1L636.1,470.2M669.3,449.2L661.9,453.6L653.6,456.0M649.0,432.9L647.5,440.2L644.3,447.0M622.1,445.7L627.5,448.4L632.2,452.2M613.0,470.7L623.4,468.1L634.2,468.4M620.4,439.7L622.5,437.8L622.6,434.9M577.7,431.4L581.4,418.4L586.3,405.7M566.9,403.5L576.4,403.1L585.8,404.1M586.3,405.7L586.0,404.9L585.8,404.1M596.2,436.1L599.6,427.2L602.9,418.3M586.3,405.7L594.1,412.7L602.9,418.3M619.2,421.7L613.8,418.7L608.0,416.5M602.9,418.3L605.6,417.8L608.0,416.5M626.4,397.7L620.0,397.2L613.5,396.5M608.0,416.5L609.5,406.2L613.5,396.5M610.6,347.4L605.8,352.9L599.3,356.2M586.8,346.6L587.2,347.3L587.1,348.0M599.3,356.2L592.4,353.2L587.1,348.0M559.4,357.8L567.6,358.1L575.8,359.3M587.1,348.0L581.2,353.4L575.8,359.3M643.3,342.0L645.6,350.2L646.0,358.7M643.3,342.0L650.1,336.4L658.3,333.3M664.0,346.4L661.2,339.8L658.3,333.3M664.0,346.4L658.0,353.5L653.8,361.8M653.8,361.8L649.7,360.7L646.0,358.7M632.0,336.8L637.2,340.3L643.3,342.0M624.5,353.7L625.8,359.0L628.4,363.8M628.4,363.8L637.3,361.6L646.0,358.7M659.9,326.2L658.9,329.7L658.3,333.3M676.9,348.8L670.3,348.6L664.0,346.4M660.0,372.4L656.7,367.2L653.8,361.8M633.5,381.3L629.4,374.9L626.5,367.8M626.5,367.8L627.6,365.9L628.4,363.8M724.3,411.5L721.0,408.2L716.4,407.2M724.3,411.5L733.3,409.1L742.2,406.1M716.4,407.2L718.2,398.0L719.6,388.7M719.6,388.7L730.1,392.1L741.1,392.6M741.1,392.6L741.8,396.5L743.7,400.0M724.0,423.0L725.5,417.3L724.3,411.5M705.8,410.1L710.8,407.5L716.4,407.2M743.7,384.5L741.2,388.2L741.1,392.6M561.6,383.0L569.4,381.7L577.2,380.2M585.8,404.1L585.8,401.6L587.8,400.1M577.2,380.2L583.8,389.5L587.8,400.1M575.8,359.3L578.7,366.8L581.7,374.3M577.2,380.2L580.6,378.1L581.7,374.3M600.1,360.3L597.0,367.7L591.4,373.5M600.1,360.3L608.7,364.7L615.8,371.1M591.4,373.5L598.3,381.4L604.8,389.7M615.8,371.1L610.4,380.3L605.3,389.7M599.3,356.2L599.4,358.3L600.1,360.3M581.7,374.3L586.5,373.2L591.4,373.5M626.5,367.8L621.6,370.8L615.8,371.1M587.8,400.1L595.8,394.1L604.8,389.7M613.5,396.5L610.3,392.0L605.3,389.7" fill="none" stroke="#fbd29c" stroke-width="0.85" opacity="0.8"/>
<path d="M158.90,586.30 L162.10,586.30 L162.10,606.70 L158.90,606.70 L158.90,589.67 L154.00,592.60 L152.50,590.80 Z" fill="#ef7b22"/>
<text transform="translate(168.01,606.7) scale(1.0715,1)" font-family="Liberation Sans" font-size="29.5" font-weight="normal" fill="#ef7b22" stroke="#ef7b22" stroke-width="0.4">2</text>
<text transform="translate(187.54,606.7) scale(1.2105,1)" font-family="Liberation Sans" font-size="29.5" font-weight="normal" fill="#ef7b22" stroke="#ef7b22" stroke-width="0.4">:</text>
<text transform="translate(198.47,606.7) scale(1.0637,1)" font-family="Liberation Sans" font-size="29.5" font-weight="normal" fill="#ef7b22" stroke="#ef7b22" stroke-width="0.4">0</text>
<text transform="translate(216.87,606.7) scale(1.0708,1)" font-family="Liberation Sans" font-size="29.5" font-weight="normal" fill="#ef7b22" stroke="#ef7b22" stroke-width="0.4">0</text>
<text transform="translate(240.14,604) scale(0.7781,1)" font-family="Liberation Sans" font-size="19.8" font-weight="normal" fill="#222" stroke="#222" stroke-width="0.4">P</text>
<text transform="translate(250.90,604) scale(1.2910,1)" font-family="Liberation Sans" font-size="19.8" font-weight="normal" fill="#222" stroke="#222" stroke-width="0.4">M</text>
<text transform="translate(667.18,651.4) scale(0.8148,1)" font-family="Liberation Sans" font-size="16.7" font-weight="normal" fill="#444" >L</text>
<text transform="translate(675.83,651.4) scale(0.7071,1)" font-family="Liberation Sans" font-size="16.7" font-weight="normal" fill="#444" >E</text>
<text transform="translate(685.07,651.4) scale(0.8579,1)" font-family="Liberation Sans" font-size="16.7" font-weight="normal" fill="#444" >A</text>
<text transform="translate(695.75,651.4) scale(0.7684,1)" font-family="Liberation Sans" font-size="16.7" font-weight="normal" fill="#444" >D</text>
<text transform="translate(706.40,651.4) scale(0.7905,1)" font-family="Liberation Sans" font-size="16.7" font-weight="normal" fill="#444" >S</text>
<rect x="519.5" y="788.5" width="35" height="4.5" rx="2" fill="#9a9a96"/>
<line x1="514.5" y1="800" x2="514.5" y2="852" stroke="#d2d1ca" stroke-width="0.8"/>
<rect x="616.0" y="709.3" width="33.700000000000045" height="47.0" fill="#ecebe7"/><rect x="617.5" y="710.8" width="30.700000000000045" height="44.0" fill="#151515"/><rect x="617.5" y="710.8" width="30.700000000000045" height="22.0" fill="#1d1d1d"/><rect x="617.5" y="732.4" width="30.700000000000045" height="0.8" fill="#080808"/>
<rect x="678.2" y="709.0" width="32.89999999999998" height="47.299999999999955" fill="#ecebe7"/><rect x="679.7" y="710.5" width="29.899999999999977" height="44.299999999999955" fill="#151515"/><rect x="679.7" y="710.5" width="29.899999999999977" height="22.149999999999977" fill="#1d1d1d"/><rect x="679.7" y="732.25" width="29.899999999999977" height="0.8" fill="#080808"/>
<rect x="737.2" y="709.0" width="32.799999999999955" height="47.299999999999955" fill="#ecebe7"/><rect x="738.7" y="710.5" width="29.799999999999955" height="44.299999999999955" fill="#151515"/><rect x="738.7" y="710.5" width="29.799999999999955" height="22.149999999999977" fill="#1d1d1d"/><rect x="738.7" y="732.25" width="29.799999999999955" height="0.8" fill="#080808"/>
<text transform="translate(622.08,747.3) scale(0.9703,1)" font-family="Liberation Sans" font-size="41.4" font-weight="normal" fill="#f2f2f2" stroke="#151515" stroke-width="0.5">2</text>
<path d="M695.90,718.30 L698.80,718.30 L698.80,747.30 L695.90,747.30 L695.90,722.42 L689.30,725.36 L688.00,723.80 Z" fill="#f2f2f2"/>
<text transform="translate(742.59,747.3) scale(0.9109,1)" font-family="Liberation Sans" font-size="41.4" font-weight="normal" fill="#f2f2f2" stroke="#151515" stroke-width="0.5">6</text>
<rect x="651.1" y="815.6" width="33.89999999999998" height="48.10000000000002" fill="#ecebe7"/><rect x="652.6" y="817.1" width="30.899999999999977" height="45.10000000000002" fill="#151515"/><rect x="652.6" y="817.1" width="30.899999999999977" height="22.55000000000001" fill="#1d1d1d"/><rect x="652.6" y="839.2500000000001" width="30.899999999999977" height="0.8" fill="#080808"/>
<rect x="707.4" y="815.3" width="33.10000000000002" height="48.40000000000009" fill="#ecebe7"/><rect x="708.9" y="816.8" width="30.100000000000023" height="45.40000000000009" fill="#151515"/><rect x="708.9" y="816.8" width="30.100000000000023" height="22.700000000000045" fill="#1d1d1d"/><rect x="708.9" y="839.1" width="30.100000000000023" height="0.8" fill="#080808"/>
<text transform="translate(656.38,854.1) scale(1.0379,1)" font-family="Liberation Sans" font-size="40.3" font-weight="normal" fill="#f2f2f2" stroke="#151515" stroke-width="0.5">6</text>
<path d="M724.90,825.90 L727.80,825.90 L727.80,854.10 L724.90,854.10 L724.90,830.02 L718.30,832.96 L717.00,831.40 Z" fill="#f2f2f2"/>
<rect x="651.1" y="913.0" width="33.89999999999998" height="48.10000000000002" fill="#ecebe7"/><rect x="652.6" y="914.5" width="30.899999999999977" height="45.10000000000002" fill="#151515"/><rect x="652.6" y="914.5" width="30.899999999999977" height="22.55000000000001" fill="#1d1d1d"/><rect x="652.6" y="936.65" width="30.899999999999977" height="0.8" fill="#080808"/>
<rect x="707.4" y="912.8" width="33.10000000000002" height="48.30000000000007" fill="#ecebe7"/><rect x="708.9" y="914.3" width="30.100000000000023" height="45.30000000000007" fill="#151515"/><rect x="708.9" y="914.3" width="30.100000000000023" height="22.650000000000034" fill="#1d1d1d"/><rect x="708.9" y="936.5500000000001" width="30.100000000000023" height="0.8" fill="#080808"/>
<path d="M668.50,923.40 L671.40,923.40 L671.40,950.80 L668.50,950.80 L668.50,927.52 L662.30,930.46 L661.00,928.90 Z" fill="#f2f2f2"/>
<text transform="translate(713.39,950.8) scale(0.9798,1)" font-family="Liberation Sans" font-size="39.5" font-weight="normal" fill="#f2f2f2" stroke="#151515" stroke-width="0.5">0</text>
<g filter="url(#soft)"><path d="M220,762 L221,748 Q222,740 228,737 L247,730 L252,726 L272,725 L280,729 L293,734 Q297,738 298,746 L299,762Z" fill="#f1f1f0"/><path d="M252,726 L262,736 L272,725 L270,722 L254,722Z" fill="#4a4a4a"/><path d="M246,731 L252,726 L258,740Z M278,728 L272,725 L266,739Z" fill="#dcdcdb"/><path d="M262,738 L263,762 L261,762Z" fill="#c8c8c8"/><path d="M244,700 Q243,688 250,684 Q258,681 266,684 Q274,689 274,700 L273,712 Q272,724 262,728 Q254,729 249,724 Q245,716 244,706Z" fill="#868686"/><path d="M246,694 Q250,688 258,688 Q267,688 272,694 L272,700 Q262,696 252,697 L246,700Z" fill="#9a9a9a"/><path d="M243,704 Q242,690 248,685 Q256,680 264,682 Q272,685 275,694 L274,706 L272,698 Q270,690 262,689 Q252,688 248,692 Q245,696 245,706Z" fill="#1e1e1e"/><path d="M249,703 L256,702 M262,702 L269,703" stroke="#3a3a3a" stroke-width="2"/><path d="M252,715 Q259,717 266,715 L265,717.5 Q259,719.5 253,717.5Z" fill="#2a2a2a"/><path d="M296,762 L297,738 Q300,727 310,723 L316,721 L326,721 L336,725 Q346,730 349,740 L350,762Z" fill="#efefee"/><path d="M310,723 L318,734 L326,721 L320,728Z" fill="#d4d4d4"/><path d="M313,753 Q325,748 337,750 L336,755 Q325,754 314,757Z" fill="#bdbdbd"/><rect x="316" y="745" width="3" height="6" fill="#8a8a8a"/><path d="M303,700 Q302,688 309,684 Q316,681 323,684 Q331,688 331,700 L330,708 Q326,712 316,712 Q307,712 303,708Z" fill="#878787"/><path d="M303,704 Q303,720 312,724 Q316,726 321,724 Q330,720 331,704 Q326,708 316,708 Q307,708 303,704Z" fill="#262626"/><path d="M301,703 Q300,688 307,683 Q316,679 325,683 Q332,688 332,703 L330,697 Q328,690 320,689 Q310,689 305,692 Q303,696 303,703Z" fill="#1a1a1a"/><path d="M307,699 L313,698 M319,698 L326,699" stroke="#3a3a3a" stroke-width="1.8"/><path d="M348.5,762 L348.5,736 Q352,731 360,728 L366,725 L376,727 L384,719 Q396,724 403,728 L406,733 L389,731 L387,762Z" fill="#1b1b1b"/><path d="M388,731 L405,730 Q411,736 412,746 L412.5,762 L387,762Z" fill="#efefee"/><path d="M411,738 L413.5,742 L413.5,762 L411.5,762Z" fill="#2a2a2a"/><path d="M366,725 L371,730 L376,727 L384,719 L378,716 L368,718Z" fill="#e6e6e5"/><path d="M358,698 Q358,686 366,683 Q372,681 379,684 Q386,688 386,698 L385,708 Q383,718 373,720 Q364,719 360,712 Q358,706 358,700Z" fill="#9b9b9b"/><path d="M356.5,700 Q356,686 364,681 Q372,678 380,681 Q388,686 387,700 L385,694 Q382,689 372,689 Q362,689 359,694Z" fill="#1c1c1c"/><path d="M362,699 L369,698 M376,698 L383,699" stroke="#4a4a4a" stroke-width="1.8"/><path d="M365,708 Q372,710 379,708 L378,710.5 Q372,712.5 366,710.5Z" fill="#3a3a3a"/><path d="M216.5,885 L217,860 Q219,850 230,846 L240,843 L266,844 Q273,847 276,856 L276,885Z" fill="#c8c8c7"/><path d="M242,845 L258,846 L258,885 L243,885Z" fill="#e6e6e5"/><path d="M230.7,846 L241,843 L243,885 L231,885Z" fill="#7d7d7d"/><path d="M259,847 L269,846 L273,860 L273,885 L260,885Z" fill="#7d7d7d"/><path d="M240,828 Q240,816 247,813 Q253,811 259,813 Q266,816 266,828 L265,836 Q263,845 253,847 Q244,845 241,836Z" fill="#7a7a7a"/><path d="M239,826 Q238,813 246,809 Q253,806 260,809 Q268,813 267,826 L265,819 Q262,815 253,815 Q244,815 241,819Z" fill="#171717"/><path d="M244,826 L250,825 M256,825 L262,826" stroke="#333" stroke-width="1.8"/><path d="M246,835 Q253,837 260,835 L259,838 Q253,840 247,838Z" fill="#1e1e1e"/><path d="M273,885 L274,858 Q278,846 292,842 L304,839 L316,840 Q330,844 340,848 Q350,856 352,870 L352,885Z" fill="#efefee"/><path d="M303,840 L309,848 L315,840Z" fill="#d8d8d8"/><circle cx="306" cy="861" r="1" fill="#777"/><path d="M296,822 Q296,810 303,807 Q309,805 315,807 Q322,810 322,822 L321,832 Q318,841 309,842 Q300,840 297,832Z" fill="#9e9e9e"/><path d="M294,824 Q293,810 300,806 Q309,802 317,805 Q324,809 323.5,824 L321,815 Q318,809 309,809 Q300,809 297,815Z" fill="#262626"/><path d="M298,821 L320,821" stroke="#222" stroke-width="1.6"/><path d="M303,831 Q309,833 315,831" stroke="#444" stroke-width="1.5" fill="none"/><path d="M349.5,885 L350,862 Q352,855 360,850 L378,844 Q392,846 400,850 Q408,856 410,866 L413,885Z" fill="#e4e4e3"/><path d="M360,845 L378,843 L372,856 L364,857Z" fill="#2e2e2e"/><rect x="369" y="868" width="3" height="7" fill="#8a8a8a"/><path d="M354,828 Q353,814 361,810 Q369,807 377,810 Q385,815 385,828 L384,836 Q381,846 369,847 Q358,845 355,836Z" fill="#3b3b3b"/><path d="M357,818 Q362,810 369,810 Q377,810 382,817 Q370,813 357,818Z" fill="#5e5e5e"/><path d="M358,825 L366,824 M372,824 L380,825" stroke="#1c1c1c" stroke-width="2.2"/></g>
<rect x="215.5" y="762.3" width="198.5" height="23" fill="#b5b4af"/>
<text transform="translate(270.52,782.3) scale(0.7924,1)" font-family="Liberation Sans" font-size="22.2" font-weight="bold" fill="#161616" >M</text>
<text transform="translate(287.08,782.3) scale(0.7520,1)" font-family="Liberation Sans" font-size="22.2" font-weight="bold" fill="#161616" >A</text>
<text transform="translate(301.94,782.3) scale(0.5823,1)" font-family="Liberation Sans" font-size="22.2" font-weight="bold" fill="#161616" >H</text>
<text transform="translate(313.49,782.3) scale(0.7453,1)" font-family="Liberation Sans" font-size="22.2" font-weight="bold" fill="#161616" >A</text>
<text transform="translate(326.50,782.3) scale(0.7889,1)" font-family="Liberation Sans" font-size="22.2" font-weight="bold" fill="#161616" >Y</text>
<text transform="translate(339.97,782.3) scale(0.6970,1)" font-family="Liberation Sans" font-size="22.2" font-weight="bold" fill="#161616" >U</text>
<text transform="translate(351.81,782.3) scale(0.7649,1)" font-family="Liberation Sans" font-size="22.2" font-weight="bold" fill="#161616" >T</text>
<text transform="translate(363.83,782.3) scale(0.7193,1)" font-family="Liberation Sans" font-size="22.2" font-weight="bold" fill="#161616" >I</text>
<rect x="215.8" y="884.1" width="197.9" height="22.6" fill="#b5b4af"/>
<text transform="translate(215.07,904) scale(0.8581,1)" font-family="Liberation Sans" font-size="21.5" font-weight="bold" fill="#161616" >M</text>
<text transform="translate(231.46,904) scale(0.8181,1)" font-family="Liberation Sans" font-size="21.5" font-weight="bold" fill="#161616" >A</text>
<text transform="translate(245.86,904) scale(0.7200,1)" font-family="Liberation Sans" font-size="21.5" font-weight="bold" fill="#161616" >H</text>
<text transform="translate(258.26,904) scale(0.8181,1)" font-family="Liberation Sans" font-size="21.5" font-weight="bold" fill="#161616" >A</text>
<text transform="translate(277.38,904) scale(0.8401,1)" font-family="Liberation Sans" font-size="21.5" font-weight="bold" fill="#161616" >V</text>
<text transform="translate(290.75,904) scale(0.8718,1)" font-family="Liberation Sans" font-size="21.5" font-weight="bold" fill="#161616" >I</text>
<text transform="translate(296.84,904) scale(0.7344,1)" font-family="Liberation Sans" font-size="21.5" font-weight="bold" fill="#161616" >K</text>
<text transform="translate(309.92,904) scale(0.7071,1)" font-family="Liberation Sans" font-size="21.5" font-weight="bold" fill="#161616" >A</text>
<text transform="translate(322.49,904) scale(0.6676,1)" font-family="Liberation Sans" font-size="21.5" font-weight="bold" fill="#161616" >S</text>
<text transform="translate(341.32,904) scale(0.7071,1)" font-family="Liberation Sans" font-size="21.5" font-weight="bold" fill="#161616" >A</text>
<text transform="translate(354.05,904) scale(0.6272,1)" font-family="Liberation Sans" font-size="21.5" font-weight="bold" fill="#161616" >G</text>
<text transform="translate(367.02,904) scale(0.6804,1)" font-family="Liberation Sans" font-size="21.5" font-weight="bold" fill="#161616" >H</text>
<text transform="translate(378.90,904) scale(0.7418,1)" font-family="Liberation Sans" font-size="21.5" font-weight="bold" fill="#161616" >A</text>
<text transform="translate(392.86,904) scale(0.6522,1)" font-family="Liberation Sans" font-size="21.5" font-weight="bold" fill="#161616" >D</text>
<text transform="translate(407.55,904) scale(0.8718,1)" font-family="Liberation Sans" font-size="21.5" font-weight="bold" fill="#161616" >I</text>
<text transform="translate(263.64,955.8) scale(0.5871,1)" font-family="Liberation Sans" font-size="27.2" font-weight="normal" fill="#505050" stroke="#e0dfd8" stroke-width="0.25">O</text>
<text transform="translate(279.50,955.8) scale(0.8128,1)" font-family="Liberation Sans" font-size="27.2" font-weight="normal" fill="#505050" stroke="#e0dfd8" stroke-width="0.25">T</text>
<text transform="translate(296.40,955.8) scale(0.7174,1)" font-family="Liberation Sans" font-size="27.2" font-weight="normal" fill="#505050" stroke="#e0dfd8" stroke-width="0.25">H</text>
<text transform="translate(313.90,955.8) scale(0.5834,1)" font-family="Liberation Sans" font-size="27.2" font-weight="normal" fill="#505050" stroke="#e0dfd8" stroke-width="0.25">E</text>
<text transform="translate(329.29,955.8) scale(0.6749,1)" font-family="Liberation Sans" font-size="27.2" font-weight="normal" fill="#505050" stroke="#e0dfd8" stroke-width="0.25">R</text>
<text transform="translate(347.14,955.8) scale(0.6961,1)" font-family="Liberation Sans" font-size="27.2" font-weight="normal" fill="#505050" stroke="#e0dfd8" stroke-width="0.25">S</text>
<text transform="translate(276.35,989.7) scale(0.8685,1)" font-family="Liberation Sans" font-size="14" font-weight="normal" fill="#4a4a4a" >S</text>
<text transform="translate(284.90,989.7) scale(0.8999,1)" font-family="Liberation Sans" font-size="14" font-weight="normal" fill="#4a4a4a" >O</text>
<text transform="translate(295.45,989.7) scale(0.8805,1)" font-family="Liberation Sans" font-size="14" font-weight="normal" fill="#4a4a4a" >U</text>
<text transform="translate(306.43,989.7) scale(0.7579,1)" font-family="Liberation Sans" font-size="14" font-weight="normal" fill="#4a4a4a" >R</text>
<text transform="translate(314.57,989.7) scale(0.8797,1)" font-family="Liberation Sans" font-size="14" font-weight="normal" fill="#4a4a4a" >C</text>
<text transform="translate(325.16,989.7) scale(0.8171,1)" font-family="Liberation Sans" font-size="14" font-weight="normal" fill="#4a4a4a" >E</text>
<text transform="translate(333.17,989.7) scale(1.2003,1)" font-family="Liberation Sans" font-size="14" font-weight="normal" fill="#4a4a4a" >:</text>
<text transform="translate(344.45,989.7) scale(0.9974,1)" font-family="Liberation Sans" font-size="14" font-weight="normal" fill="#4a4a4a" >N</text>
<text transform="translate(355.66,989.7) scale(0.8171,1)" font-family="Liberation Sans" font-size="14" font-weight="normal" fill="#4a4a4a" >E</text>
<text transform="translate(364.34,989.7) scale(0.9539,1)" font-family="Liberation Sans" font-size="14" font-weight="normal" fill="#4a4a4a" >W</text>
<text transform="translate(377.90,989.7) scale(0.7817,1)" font-family="Liberation Sans" font-size="14" font-weight="normal" fill="#4a4a4a" >S</text>
<text transform="translate(398.08,989.7) scale(1.1873,1)" font-family="Liberation Sans" font-size="14" font-weight="normal" fill="#4a4a4a" >8</text>
<path d="M393.90,980.00 L395.40,980.00 L395.40,989.70 L393.90,989.70 L393.90,981.65 L392.20,983.04 L391.50,982.20 Z" fill="#4a4a4a"/>
</svg>
</body></html>
